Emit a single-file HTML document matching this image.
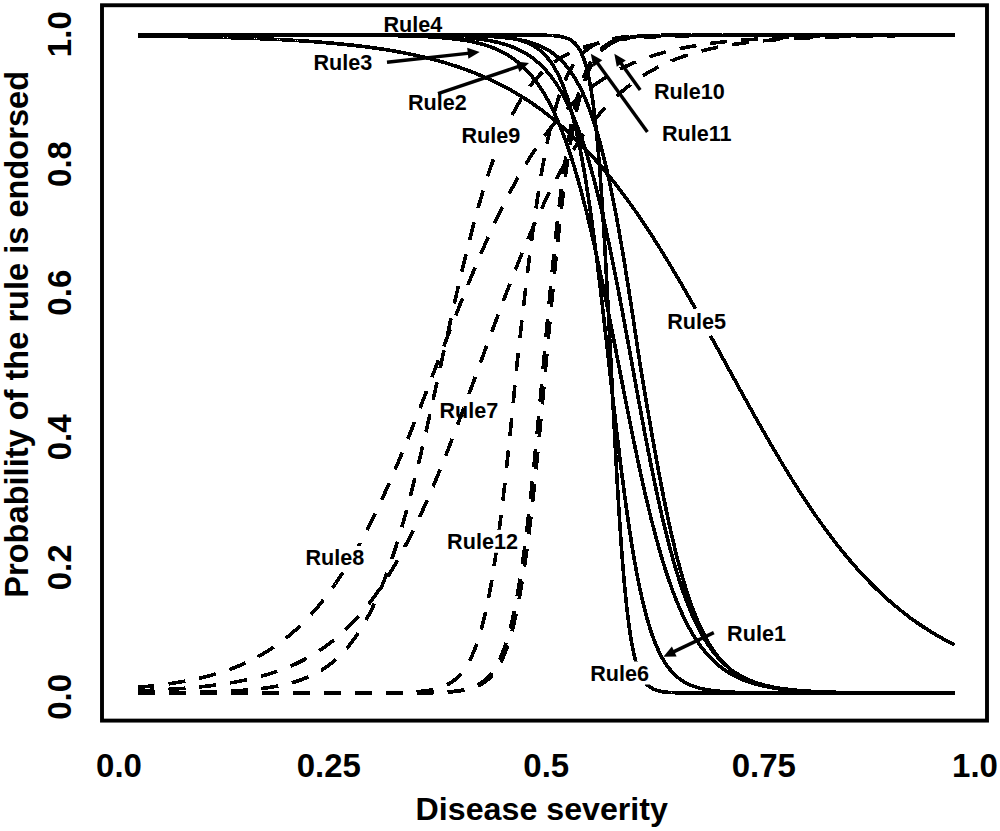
<!DOCTYPE html>
<html><head><meta charset="utf-8"><style>
html,body{margin:0;padding:0;background:#fff;width:1000px;height:831px;overflow:hidden}
svg{display:block}
.ax{font-family:"Liberation Sans",sans-serif;font-weight:bold;font-size:33px;fill:#000}
.lab{font-family:"Liberation Sans",sans-serif;font-weight:bold;font-size:21.6px;fill:#000}
</style></head><body>
<svg width="1000" height="831" viewBox="0 0 1000 831">
<rect x="0" y="0" width="1000" height="831" fill="#fff"/>
<g shape-rendering="crispEdges">
<path d="M137.5,36.0 L138.5,36.0 L139.5,36.0 L140.5,36.0 L141.5,36.0 L142.5,36.0 L143.5,36.0 L144.5,36.0 L145.5,36.0 L146.5,36.0 L147.5,36.1 L148.5,36.1 L149.5,36.1 L150.5,36.1 L151.5,36.1 L152.5,36.1 L153.5,36.1 L154.5,36.1 L155.5,36.2 L156.5,36.2 L157.5,36.2 L158.5,36.2 L159.5,36.2 L160.5,36.2 L161.5,36.2 L162.5,36.3 L163.5,36.3 L164.5,36.3 L165.5,36.3 L166.5,36.3 L167.5,36.3 L168.5,36.3 L169.5,36.4 L170.5,36.4 L171.5,36.4 L172.5,36.4 L173.5,36.4 L174.5,36.4 L175.5,36.4 L176.5,36.5 L177.5,36.5 L178.5,36.5 L179.5,36.5 L180.5,36.5 L181.5,36.5 L182.5,36.6 L183.5,36.6 L184.5,36.6 L185.5,36.6 L186.5,36.6 L187.5,36.7 L188.5,36.7 L189.5,36.7 L190.5,36.7 L191.5,36.7 L192.5,36.7 L193.5,36.8 L194.5,36.8 L195.5,36.8 L196.5,36.8 L197.5,36.8 L198.5,36.9 L199.5,36.9 L200.5,36.9 L201.5,36.9 L202.5,37.0 L203.5,37.0 L204.5,37.0 L205.5,37.0 L206.5,37.0 L207.5,37.1 L208.5,37.1 L209.5,37.1 L210.5,37.1 L211.5,37.2 L212.5,37.2 L213.5,37.2 L214.5,37.2 L215.5,37.3 L216.5,37.3 L217.5,37.3 L218.5,37.3 L219.5,37.4 L220.5,37.4 L221.5,37.4 L222.5,37.4 L223.5,37.5 L224.5,37.5 L225.5,37.5 L226.5,37.5 L227.5,37.6 L228.5,37.6 L229.5,37.6 L230.5,37.7 L231.5,37.7 L232.5,37.7 L233.5,37.8 L234.5,37.8 L235.5,37.8 L236.5,37.8 L237.5,37.9 L238.5,37.9 L239.5,37.9 L240.5,38.0 L241.5,38.0 L242.5,38.0 L243.5,38.1 L244.5,38.1 L245.5,38.1 L246.5,38.2 L247.5,38.2 L248.5,38.3 L249.5,38.3 L250.5,38.3 L251.5,38.4 L252.5,38.4 L253.5,38.4 L254.5,38.5 L255.5,38.5 L256.5,38.6 L257.5,38.6 L258.5,38.6 L259.5,38.7 L260.5,38.7 L261.5,38.8 L262.5,38.8 L263.5,38.8 L264.5,38.9 L265.5,38.9 L266.5,39.0 L267.5,39.0 L268.5,39.1 L269.5,39.1 L270.5,39.1 L271.5,39.2 L272.5,39.2 L273.5,39.3 L274.5,39.3 L275.5,39.4 L276.5,39.4 L277.5,39.5 L278.5,39.5 L279.5,39.6 L280.5,39.6 L281.5,39.7 L282.5,39.7 L283.5,39.8 L284.5,39.8 L285.5,39.9 L286.5,39.9 L287.5,40.0 L288.5,40.1 L289.5,40.1 L290.5,40.2 L291.5,40.2 L292.5,40.3 L293.5,40.3 L294.5,40.4 L295.5,40.5 L296.5,40.5 L297.5,40.6 L298.5,40.6 L299.5,40.7 L300.5,40.8 L301.5,40.8 L302.5,40.9 L303.5,41.0 L304.5,41.0 L305.5,41.1 L306.5,41.2 L307.5,41.2 L308.5,41.3 L309.5,41.4 L310.5,41.4 L311.5,41.5 L312.5,41.6 L313.5,41.7 L314.5,41.7 L315.5,41.8 L316.5,41.9 L317.5,42.0 L318.5,42.0 L319.5,42.1 L320.5,42.2 L321.5,42.3 L322.5,42.3 L323.5,42.4 L324.5,42.5 L325.5,42.6 L326.5,42.7 L327.5,42.8 L328.5,42.9 L329.5,42.9 L330.5,43.0 L331.5,43.1 L332.5,43.2 L333.5,43.3 L334.5,43.4 L335.5,43.5 L336.5,43.6 L337.5,43.7 L338.5,43.8 L339.5,43.9 L340.5,44.0 L341.5,44.1 L342.5,44.2 L343.5,44.3 L344.5,44.4 L345.5,44.5 L346.5,44.6 L347.5,44.7 L348.5,44.8 L349.5,44.9 L350.5,45.0 L351.5,45.1 L352.5,45.2 L353.5,45.3 L354.5,45.4 L355.5,45.6 L356.5,45.7 L357.5,45.8 L358.5,45.9 L359.5,46.0 L360.5,46.1 L361.5,46.3 L362.5,46.4 L363.5,46.5 L364.5,46.6 L365.5,46.8 L366.5,46.9 L367.5,47.0 L368.5,47.2 L369.5,47.3 L370.5,47.4 L371.5,47.6 L372.5,47.7 L373.5,47.8 L374.5,48.0 L375.5,48.1 L376.5,48.3 L377.5,48.4 L378.5,48.6 L379.5,48.7 L380.5,48.9 L381.5,49.0 L382.5,49.2 L383.5,49.3 L384.5,49.5 L385.5,49.6 L386.5,49.8 L387.5,50.0 L388.5,50.1 L389.5,50.3 L390.5,50.5 L391.5,50.6 L392.5,50.8 L393.5,51.0 L394.5,51.1 L395.5,51.3 L396.5,51.5 L397.5,51.7 L398.5,51.9 L399.5,52.0 L400.5,52.2 L401.5,52.4 L402.5,52.6 L403.5,52.8 L404.5,53.0 L405.5,53.2 L406.5,53.4 L407.5,53.6 L408.5,53.8 L409.5,54.0 L410.5,54.2 L411.5,54.4 L412.5,54.6 L413.5,54.8 L414.5,55.0 L415.5,55.2 L416.5,55.5 L417.5,55.7 L418.5,55.9 L419.5,56.1 L420.5,56.4 L421.5,56.6 L422.5,56.8 L423.5,57.1 L424.5,57.3 L425.5,57.5 L426.5,57.8 L427.5,58.0 L428.5,58.3 L429.5,58.5 L430.5,58.8 L431.5,59.0 L432.5,59.3 L433.5,59.6 L434.5,59.8 L435.5,60.1 L436.5,60.4 L437.5,60.6 L438.5,60.9 L439.5,61.2 L440.5,61.5 L441.5,61.8 L442.5,62.0 L443.5,62.3 L444.5,62.6 L445.5,62.9 L446.5,63.2 L447.5,63.5 L448.5,63.8 L449.5,64.1 L450.5,64.4 L451.5,64.8 L452.5,65.1 L453.5,65.4 L454.5,65.7 L455.5,66.0 L456.5,66.4 L457.5,66.7 L458.5,67.0 L459.5,67.4 L460.5,67.7 L461.5,68.1 L462.5,68.4 L463.5,68.8 L464.5,69.1 L465.5,69.5 L466.5,69.9 L467.5,70.2 L468.5,70.6 L469.5,71.0 L470.5,71.4 L471.5,71.7 L472.5,72.1 L473.5,72.5 L474.5,72.9 L475.5,73.3 L476.5,73.7 L477.5,74.1 L478.5,74.5 L479.5,75.0 L480.5,75.4 L481.5,75.8 L482.5,76.2 L483.5,76.7 L484.5,77.1 L485.5,77.5 L486.5,78.0 L487.5,78.4 L488.5,78.9 L489.5,79.3 L490.5,79.8 L491.5,80.3 L492.5,80.7 L493.5,81.2 L494.5,81.7 L495.5,82.2 L496.5,82.7 L497.5,83.2 L498.5,83.6 L499.5,84.2 L500.5,84.7 L501.5,85.2 L502.5,85.7 L503.5,86.2 L504.5,86.7 L505.5,87.3 L506.5,87.8 L507.5,88.3 L508.5,88.9 L509.5,89.4 L510.5,90.0 L511.5,90.6 L512.5,91.1 L513.5,91.7 L514.5,92.3 L515.5,92.9 L516.5,93.5 L517.5,94.1 L518.5,94.7 L519.5,95.3 L520.5,95.9 L521.5,96.5 L522.5,97.1 L523.5,97.7 L524.5,98.4 L525.5,99.0 L526.5,99.7 L527.5,100.3 L528.5,101.0 L529.5,101.6 L530.5,102.3 L531.5,103.0 L532.5,103.6 L533.5,104.3 L534.5,105.0 L535.5,105.7 L536.5,106.4 L537.5,107.1 L538.5,107.9 L539.5,108.6 L540.5,109.3 L541.5,110.0 L542.5,110.8 L543.5,111.5 L544.5,112.3 L545.5,113.1 L546.5,113.8 L547.5,114.6 L548.5,115.4 L549.5,116.2 L550.5,117.0 L551.5,117.8 L552.5,118.6 L553.5,119.4 L554.5,120.2 L555.5,121.0 L556.5,121.9 L557.5,122.7 L558.5,123.5 L559.5,124.4 L560.5,125.3 L561.5,126.1 L562.5,127.0 L563.5,127.9 L564.5,128.8 L565.5,129.7 L566.5,130.6 L567.5,131.5 L568.5,132.4 L569.5,133.3 L570.5,134.3 L571.5,135.2 L572.5,136.2 L573.5,137.1 L574.5,138.1 L575.5,139.0 L576.5,140.0 L577.5,141.0 L578.5,142.0 L579.5,143.0 L580.5,144.0 L581.5,145.0 L582.5,146.0 L583.5,147.1 L584.5,148.1 L585.5,149.2 L586.5,150.2 L587.5,151.3 L588.5,152.3 L589.5,153.4 L590.5,154.5 L591.5,155.6 L592.5,156.7 L593.5,157.8 L594.5,158.9 L595.5,160.0 L596.5,161.2 L597.5,162.3 L598.5,163.4 L599.5,164.6 L600.5,165.7 L601.5,166.9 L602.5,168.1 L603.5,169.3 L604.5,170.5 L605.5,171.7 L606.5,172.9 L607.5,174.1 L608.5,175.3 L609.5,176.5 L610.5,177.8 L611.5,179.0 L612.5,180.3 L613.5,181.5 L614.5,182.8 L615.5,184.1 L616.5,185.4 L617.5,186.7 L618.5,188.0 L619.5,189.3 L620.5,190.6 L621.5,191.9 L622.5,193.2 L623.5,194.6 L624.5,195.9 L625.5,197.3 L626.5,198.6 L627.5,200.0 L628.5,201.4 L629.5,202.8 L630.5,204.2 L631.5,205.6 L632.5,207.0 L633.5,208.4 L634.5,209.8 L635.5,211.2 L636.5,212.7 L637.5,214.1 L638.5,215.6 L639.5,217.0 L640.5,218.5 L641.5,220.0 L642.5,221.5 L643.5,222.9 L644.5,224.4 L645.5,225.9 L646.5,227.5 L647.5,229.0 L648.5,230.5 L649.5,232.0 L650.5,233.6 L651.5,235.1 L652.5,236.7 L653.5,238.2 L654.5,239.8 L655.5,241.4 L656.5,242.9 L657.5,244.5 L658.5,246.1 L659.5,247.7 L660.5,249.3 L661.5,250.9 L662.5,252.5 L663.5,254.1 L664.5,255.8 L665.5,257.4 L666.5,259.0 L667.5,260.7 L668.5,262.3 L669.5,264.0 L670.5,265.7 L671.5,267.3 L672.5,269.0 L673.5,270.7 L674.5,272.4 L675.5,274.0 L676.5,275.7 L677.5,277.4 L678.5,279.1 L679.5,280.8 L680.5,282.6 L681.5,284.3 L682.5,286.0 L683.5,287.7 L684.5,289.5 L685.5,291.2 L686.5,292.9 L687.5,294.7 L688.5,296.4 L689.5,298.2 L690.5,299.9 L691.5,301.7 L692.5,303.5 L693.5,305.2 L694.5,307.0 L695.5,308.8 M710.5,335.7 L711.5,337.6 L712.5,339.4 L713.5,341.2 L714.5,343.0 L715.5,344.8 L716.5,346.7 L717.5,348.5 L718.5,350.3 L719.5,352.1 L720.5,354.0 L721.5,355.8 L722.5,357.6 L723.5,359.4 L724.5,361.3 L725.5,363.1 L726.5,364.9 L727.5,366.7 L728.5,368.6 L729.5,370.4 L730.5,372.2 L731.5,374.0 L732.5,375.9 L733.5,377.7 L734.5,379.5 L735.5,381.3 L736.5,383.2 L737.5,385.0 L738.5,386.8 L739.5,388.6 L740.5,390.4 L741.5,392.3 L742.5,394.1 L743.5,395.9 L744.5,397.7 L745.5,399.5 L746.5,401.3 L747.5,403.1 L748.5,404.9 L749.5,406.7 L750.5,408.5 L751.5,410.3 L752.5,412.1 L753.5,413.9 L754.5,415.7 L755.5,417.4 L756.5,419.2 L757.5,421.0 L758.5,422.8 L759.5,424.5 L760.5,426.3 L761.5,428.1 L762.5,429.8 L763.5,431.6 L764.5,433.3 L765.5,435.1 L766.5,436.8 L767.5,438.5 L768.5,440.3 L769.5,442.0 L770.5,443.7 L771.5,445.4 L772.5,447.2 L773.5,448.9 L774.5,450.6 L775.5,452.3 L776.5,454.0 L777.5,455.6 L778.5,457.3 L779.5,459.0 L780.5,460.7 L781.5,462.3 L782.5,464.0 L783.5,465.7 L784.5,467.3 L785.5,469.0 L786.5,470.6 L787.5,472.2 L788.5,473.9 L789.5,475.5 L790.5,477.1 L791.5,478.7 L792.5,480.3 L793.5,481.9 L794.5,483.5 L795.5,485.1 L796.5,486.6 L797.5,488.2 L798.5,489.8 L799.5,491.3 L800.5,492.9 L801.5,494.4 L802.5,496.0 L803.5,497.5 L804.5,499.0 L805.5,500.5 L806.5,502.1 L807.5,503.6 L808.5,505.1 L809.5,506.5 L810.5,508.0 L811.5,509.5 L812.5,511.0 L813.5,512.4 L814.5,513.9 L815.5,515.3 L816.5,516.8 L817.5,518.2 L818.5,519.6 L819.5,521.0 L820.5,522.4 L821.5,523.8 L822.5,525.2 L823.5,526.6 L824.5,528.0 L825.5,529.4 L826.5,530.7 L827.5,532.1 L828.5,533.4 L829.5,534.8 L830.5,536.1 L831.5,537.4 L832.5,538.7 L833.5,540.0 L834.5,541.3 L835.5,542.6 L836.5,543.9 L837.5,545.2 L838.5,546.5 L839.5,547.7 L840.5,549.0 L841.5,550.2 L842.5,551.5 L843.5,552.7 L844.5,553.9 L845.5,555.1 L846.5,556.3 L847.5,557.5 L848.5,558.7 L849.5,559.9 L850.5,561.1 L851.5,562.3 L852.5,563.4 L853.5,564.6 L854.5,565.7 L855.5,566.8 L856.5,568.0 L857.5,569.1 L858.5,570.2 L859.5,571.3 L860.5,572.4 L861.5,573.5 L862.5,574.6 L863.5,575.7 L864.5,576.7 L865.5,577.8 L866.5,578.8 L867.5,579.9 L868.5,580.9 L869.5,582.0 L870.5,583.0 L871.5,584.0 L872.5,585.0 L873.5,586.0 L874.5,587.0 L875.5,588.0 L876.5,589.0 L877.5,589.9 L878.5,590.9 L879.5,591.8 L880.5,592.8 L881.5,593.7 L882.5,594.7 L883.5,595.6 L884.5,596.5 L885.5,597.4 L886.5,598.3 L887.5,599.2 L888.5,600.1 L889.5,601.0 L890.5,601.9 L891.5,602.7 L892.5,603.6 L893.5,604.5 L894.5,605.3 L895.5,606.1 L896.5,607.0 L897.5,607.8 L898.5,608.6 L899.5,609.4 L900.5,610.2 L901.5,611.0 L902.5,611.8 L903.5,612.6 L904.5,613.4 L905.5,614.2 L906.5,614.9 L907.5,615.7 L908.5,616.5 L909.5,617.2 L910.5,618.0 L911.5,618.7 L912.5,619.4 L913.5,620.1 L914.5,620.9 L915.5,621.6 L916.5,622.3 L917.5,623.0 L918.5,623.7 L919.5,624.4 L920.5,625.0 L921.5,625.7 L922.5,626.4 L923.5,627.0 L924.5,627.7 L925.5,628.3 L926.5,629.0 L927.5,629.6 L928.5,630.3 L929.5,630.9 L930.5,631.5 L931.5,632.1 L932.5,632.7 L933.5,633.3 L934.5,633.9 L935.5,634.5 L936.5,635.1 L937.5,635.7 L938.5,636.3 L939.5,636.9 L940.5,637.4 L941.5,638.0 L942.5,638.6 L943.5,639.1 L944.5,639.7 L945.5,640.2 L946.5,640.7 L947.5,641.3 L948.5,641.8 L949.5,642.3 L950.5,642.8 L951.5,643.3 L952.5,643.8 L953.5,644.4 L954.5,644.8" fill="none" stroke="#000" stroke-width="3.6" stroke-linejoin="round"/><path d="M137.5,35.0 L138.5,35.0 L139.5,35.0 L140.5,35.0 L141.5,35.0 L142.5,35.0 L143.5,35.0 L144.5,35.0 L145.5,35.0 L146.5,35.0 L147.5,35.0 L148.5,35.0 L149.5,35.0 L150.5,35.0 L151.5,35.0 L152.5,35.0 L153.5,35.0 L154.5,35.0 L155.5,35.0 L156.5,35.0 L157.5,35.0 L158.5,35.0 L159.5,35.0 L160.5,35.0 L161.5,35.0 L162.5,35.0 L163.5,35.0 L164.5,35.0 L165.5,35.0 L166.5,35.0 L167.5,35.0 L168.5,35.0 L169.5,35.0 L170.5,35.0 L171.5,35.0 L172.5,35.0 L173.5,35.0 L174.5,35.0 L175.5,35.0 L176.5,35.0 L177.5,35.0 L178.5,35.0 L179.5,35.0 L180.5,35.0 L181.5,35.0 L182.5,35.0 L183.5,35.0 L184.5,35.0 L185.5,35.0 L186.5,35.0 L187.5,35.0 L188.5,35.0 L189.5,35.0 L190.5,35.0 L191.5,35.0 L192.5,35.0 L193.5,35.0 L194.5,35.0 L195.5,35.0 L196.5,35.0 L197.5,35.0 L198.5,35.0 L199.5,35.0 L200.5,35.0 L201.5,35.0 L202.5,35.0 L203.5,35.0 L204.5,35.0 L205.5,35.0 L206.5,35.0 L207.5,35.0 L208.5,35.0 L209.5,35.0 L210.5,35.0 L211.5,35.0 L212.5,35.0 L213.5,35.0 L214.5,35.0 L215.5,35.0 L216.5,35.0 L217.5,35.0 L218.5,35.0 L219.5,35.0 L220.5,35.0 L221.5,35.0 L222.5,35.0 L223.5,35.0 L224.5,35.0 L225.5,35.0 L226.5,35.0 L227.5,35.0 L228.5,35.0 L229.5,35.0 L230.5,35.0 L231.5,35.0 L232.5,35.0 L233.5,35.0 L234.5,35.0 L235.5,35.0 L236.5,35.0 L237.5,35.0 L238.5,35.0 L239.5,35.0 L240.5,35.0 L241.5,35.0 L242.5,35.0 L243.5,35.0 L244.5,35.0 L245.5,35.0 L246.5,35.0 L247.5,35.0 L248.5,35.0 L249.5,35.0 L250.5,35.0 L251.5,35.0 L252.5,35.0 L253.5,35.0 L254.5,35.0 L255.5,35.0 L256.5,35.0 L257.5,35.0 L258.5,35.0 L259.5,35.0 L260.5,35.0 L261.5,35.0 L262.5,35.0 L263.5,35.0 L264.5,35.0 L265.5,35.0 L266.5,35.0 L267.5,35.0 L268.5,35.0 L269.5,35.0 L270.5,35.0 L271.5,35.0 L272.5,35.0 L273.5,35.0 L274.5,35.0 L275.5,35.0 L276.5,35.0 L277.5,35.0 L278.5,35.0 L279.5,35.0 L280.5,35.0 L281.5,35.0 L282.5,35.0 L283.5,35.0 L284.5,35.0 L285.5,35.0 L286.5,35.0 L287.5,35.0 L288.5,35.0 L289.5,35.0 L290.5,35.0 L291.5,35.0 L292.5,35.0 L293.5,35.0 L294.5,35.0 L295.5,35.0 L296.5,35.0 L297.5,35.0 L298.5,35.0 L299.5,35.0 L300.5,35.0 L301.5,35.0 L302.5,35.0 L303.5,35.0 L304.5,35.0 L305.5,35.0 L306.5,35.0 L307.5,35.0 L308.5,35.0 L309.5,35.0 L310.5,35.0 L311.5,35.0 L312.5,35.0 L313.5,35.0 L314.5,35.0 L315.5,35.0 L316.5,35.0 L317.5,35.0 L318.5,35.0 L319.5,35.0 L320.5,35.0 L321.5,35.0 L322.5,35.0 L323.5,35.0 L324.5,35.0 L325.5,35.0 L326.5,35.0 L327.5,35.0 L328.5,35.0 L329.5,35.0 L330.5,35.0 L331.5,35.0 L332.5,35.0 L333.5,35.0 L334.5,35.0 L335.5,35.0 L336.5,35.0 L337.5,35.0 L338.5,35.0 L339.5,35.0 L340.5,35.0 L341.5,35.0 L342.5,35.0 L343.5,35.0 L344.5,35.0 L345.5,35.0 L346.5,35.0 L347.5,35.0 L348.5,35.0 L349.5,35.0 L350.5,35.0 L351.5,35.0 L352.5,35.0 L353.5,35.0 L354.5,35.0 L355.5,35.0 L356.5,35.0 L357.5,35.0 L358.5,35.0 L359.5,35.0 L360.5,35.0 L361.5,35.0 L362.5,35.0 L363.5,35.0 L364.5,35.0 L365.5,35.0 L366.5,35.0 L367.5,35.0 L368.5,35.0 L369.5,35.0 L370.5,35.0 L371.5,35.0 L372.5,35.0 L373.5,35.0 L374.5,35.0 L375.5,35.0 L376.5,35.0 L377.5,35.0 L378.5,35.0 L379.5,35.0 L380.5,35.0 L381.5,35.0 L382.5,35.0 L383.5,35.0 L384.5,35.0 L385.5,35.0 L386.5,35.0 L387.5,35.0 L388.5,35.0 L389.5,35.0 L390.5,35.0 L391.5,35.0 L392.5,35.0 L393.5,35.0 L394.5,35.0 L395.5,35.0 L396.5,35.0 L397.5,35.0 L398.5,35.0 L399.5,35.0 L400.5,35.0 L401.5,35.0 L402.5,35.0 L403.5,35.0 L404.5,35.0 L405.5,35.0 L406.5,35.0 L407.5,35.0 L408.5,35.0 L409.5,35.0 L410.5,35.0 L411.5,35.0 L412.5,35.0 L413.5,35.0 L414.5,35.0 L415.5,35.0 L416.5,35.0 L417.5,35.0 L418.5,35.0 L419.5,35.0 L420.5,35.0 L421.5,35.0 L422.5,35.0 L423.5,35.0 L424.5,35.0 L425.5,35.0 L426.5,35.0 L427.5,35.0 L428.5,35.0 L429.5,35.0 L430.5,35.0 L431.5,35.0 L432.5,35.0 L433.5,35.0 L434.5,35.0 L435.5,35.0 L436.5,35.0 L437.5,35.0 L438.5,35.0 L439.5,35.0 L440.5,35.0 L441.5,35.0 L442.5,35.0 L443.5,35.0 L444.5,35.0 L445.5,35.0 L446.5,35.0 L447.5,35.0 L448.5,35.0 L449.5,35.0 L450.5,35.0 L451.5,35.0 L452.5,35.0 L453.5,35.0 L454.5,35.0 L455.5,35.0 L456.5,35.0 L457.5,35.0 L458.5,35.0 L459.5,35.0 L460.5,35.0 L461.5,35.0 L462.5,35.0 L463.5,35.0 L464.5,35.0 L465.5,35.0 L466.5,35.0 L467.5,35.0 L468.5,35.0 L469.5,35.0 L470.5,35.0 L471.5,35.0 L472.5,35.0 L473.5,35.0 L474.5,35.0 L475.5,35.0 L476.5,35.0 L477.5,35.0 L478.5,35.0 L479.5,35.0 L480.5,35.0 L481.5,35.0 L482.5,35.0 L483.5,35.0 L484.5,35.0 L485.5,35.0 L486.5,35.0 L487.5,35.0 L488.5,35.0 L489.5,35.0 L490.5,35.0 L491.5,35.0 L492.5,35.0 L493.5,35.0 L494.5,35.0 L495.5,35.0 L496.5,35.0 L497.5,35.0 L498.5,35.0 L499.5,35.0 L500.5,35.0 L501.5,35.0 L502.5,35.0 L503.5,35.0 L504.5,35.0 L505.5,35.0 L506.5,35.0 L507.5,35.0 L508.5,35.0 L509.5,35.0 L510.5,35.0 L511.5,35.0 L512.5,35.0 L513.5,35.0 L514.5,35.0 L515.5,35.0 L516.5,35.0 L517.5,35.0 L518.5,35.0 L519.5,35.0 L520.5,35.0 L521.5,35.0 L522.5,35.0 L523.5,35.0 L524.5,35.0 L525.5,35.0 L526.5,35.0 L527.5,35.0 L528.5,35.0 L529.5,35.0 L530.5,35.0 L531.5,35.0 L532.5,35.1 L533.5,35.1 L534.5,35.1 L535.5,35.1 L536.5,35.1 L537.5,35.1 L538.5,35.1 L539.5,35.1 L540.5,35.1 L541.5,35.2 L542.5,35.2 L543.5,35.2 L544.5,35.2 L545.5,35.2 L546.5,35.3 L547.5,35.3 L548.5,35.4 L549.5,35.4 L550.5,35.4 L551.5,35.5 L552.5,35.6 L553.5,35.6 L554.5,35.7 L555.5,35.8 L556.5,35.9 L557.5,36.0 L558.5,36.2 L559.5,36.3 L560.5,36.5 L561.5,36.7 L562.5,36.9 L563.5,37.1 L564.5,37.4 L565.5,37.7 L566.5,38.1 L567.5,38.5 L568.5,38.9 L569.5,39.4 L570.5,40.0 L571.5,40.6 L572.5,41.3 L573.5,42.1 L574.5,43.0 L575.5,44.0 L576.5,45.1 L577.5,46.4 L578.5,47.9 L579.5,49.5 L580.5,51.3 L581.5,53.3 L582.5,55.6 L583.5,58.1 L584.5,61.0 L585.5,64.1 L586.5,67.7 L587.5,71.6 L588.5,76.0 L589.5,80.9 L590.5,86.3 L591.5,92.3 L592.5,98.9 L593.5,106.2 L594.5,114.3 L595.5,123.1 L596.5,132.7 L597.5,143.1 L598.5,154.4 L599.5,166.7 L600.5,179.8 L601.5,193.9 L602.5,208.9 L603.5,224.7 L604.5,241.4 L605.5,258.8 L606.5,276.9 L607.5,295.6 L608.5,314.8 L609.5,334.4 L610.5,354.1 L611.5,373.9 L612.5,393.6 L613.5,413.2 L614.5,432.4 L615.5,451.1 L616.5,469.2 L617.5,486.6 L618.5,503.3 L619.5,519.1 L620.5,534.1 L621.5,548.2 L622.5,561.3 L623.5,573.6 L624.5,584.9 L625.5,595.3 L626.5,604.9 L627.5,613.7 L628.5,621.8 L629.5,629.1 L630.5,635.7 L631.5,641.7 L632.5,647.1 L633.5,652.0 L634.5,656.4 L635.5,660.3 L636.5,663.9 L637.5,667.0 L638.5,669.9 L639.5,672.4 L640.5,674.7 L641.5,676.7 L642.5,678.5 L643.5,680.1 L644.5,681.6 L645.5,682.9 L646.5,684.0 L647.5,685.0 L648.5,685.9 L649.5,686.7 L650.5,687.4 L651.5,688.0 L652.5,688.6 L653.5,689.1 L654.5,689.5 L655.5,689.9 L656.5,690.3 L657.5,690.6 L658.5,690.9 L659.5,691.1 L660.5,691.3 L661.5,691.5 L662.5,691.7 L663.5,691.8 L664.5,692.0 L665.5,692.1 L666.5,692.2 L667.5,692.3 L668.5,692.4 L669.5,692.4 L670.5,692.5 L671.5,692.6 L672.5,692.6 L673.5,692.6 L674.5,692.7 L675.5,692.7 L676.5,692.8 L677.5,692.8 L678.5,692.8 L679.5,692.8 L680.5,692.8 L681.5,692.9 L682.5,692.9 L683.5,692.9 L684.5,692.9 L685.5,692.9 L686.5,692.9 L687.5,692.9 L688.5,692.9 L689.5,692.9 L690.5,693.0 L691.5,693.0 L692.5,693.0 L693.5,693.0 L694.5,693.0 L695.5,693.0 L696.5,693.0 L697.5,693.0 L698.5,693.0 L699.5,693.0 L700.5,693.0 L701.5,693.0 L702.5,693.0 L703.5,693.0 L704.5,693.0 L705.5,693.0 L706.5,693.0 L707.5,693.0 L708.5,693.0 L709.5,693.0 L710.5,693.0 L711.5,693.0 L712.5,693.0 L713.5,693.0 L714.5,693.0 L715.5,693.0 L716.5,693.0 L717.5,693.0 L718.5,693.0 L719.5,693.0 L720.5,693.0 L721.5,693.0 L722.5,693.0 L723.5,693.0 L724.5,693.0 L725.5,693.0 L726.5,693.0 L727.5,693.0 L728.5,693.0 L729.5,693.0 L730.5,693.0 L731.5,693.0 L732.5,693.0 L733.5,693.0 L734.5,693.0 L735.5,693.0 L736.5,693.0 L737.5,693.0 L738.5,693.0 L739.5,693.0 L740.5,693.0 L741.5,693.0 L742.5,693.0 L743.5,693.0 L744.5,693.0 L745.5,693.0 L746.5,693.0 L747.5,693.0 L748.5,693.0 L749.5,693.0 L750.5,693.0 L751.5,693.0 L752.5,693.0 L753.5,693.0 L754.5,693.0 L755.5,693.0 L756.5,693.0 L757.5,693.0 L758.5,693.0 L759.5,693.0 L760.5,693.0 L761.5,693.0 L762.5,693.0 L763.5,693.0 L764.5,693.0 L765.5,693.0 L766.5,693.0 L767.5,693.0 L768.5,693.0 L769.5,693.0 L770.5,693.0 L771.5,693.0 L772.5,693.0 L773.5,693.0 L774.5,693.0 L775.5,693.0 L776.5,693.0 L777.5,693.0 L778.5,693.0 L779.5,693.0 L780.5,693.0 L781.5,693.0 L782.5,693.0 L783.5,693.0 L784.5,693.0 L785.5,693.0 L786.5,693.0 L787.5,693.0 L788.5,693.0 L789.5,693.0 L790.5,693.0 L791.5,693.0 L792.5,693.0 L793.5,693.0 L794.5,693.0 L795.5,693.0 L796.5,693.0 L797.5,693.0 L798.5,693.0 L799.5,693.0 L800.5,693.0 L801.5,693.0 L802.5,693.0 L803.5,693.0 L804.5,693.0 L805.5,693.0 L806.5,693.0 L807.5,693.0 L808.5,693.0 L809.5,693.0 L810.5,693.0 L811.5,693.0 L812.5,693.0 L813.5,693.0 L814.5,693.0 L815.5,693.0 L816.5,693.0 L817.5,693.0 L818.5,693.0 L819.5,693.0 L820.5,693.0 L821.5,693.0 L822.5,693.0 L823.5,693.0 L824.5,693.0 L825.5,693.0 L826.5,693.0 L827.5,693.0 L828.5,693.0 L829.5,693.0 L830.5,693.0 L831.5,693.0 L832.5,693.0 L833.5,693.0 L834.5,693.0 L835.5,693.0 L836.5,693.0 L837.5,693.0 L838.5,693.0 L839.5,693.0 L840.5,693.0 L841.5,693.0 L842.5,693.0 L843.5,693.0 L844.5,693.0 L845.5,693.0 L846.5,693.0 L847.5,693.0 L848.5,693.0 L849.5,693.0 L850.5,693.0 L851.5,693.0 L852.5,693.0 L853.5,693.0 L854.5,693.0 L855.5,693.0 L856.5,693.0 L857.5,693.0 L858.5,693.0 L859.5,693.0 L860.5,693.0 L861.5,693.0 L862.5,693.0 L863.5,693.0 L864.5,693.0 L865.5,693.0 L866.5,693.0 L867.5,693.0 L868.5,693.0 L869.5,693.0 L870.5,693.0 L871.5,693.0 L872.5,693.0 L873.5,693.0 L874.5,693.0 L875.5,693.0 L876.5,693.0 L877.5,693.0 L878.5,693.0 L879.5,693.0 L880.5,693.0 L881.5,693.0 L882.5,693.0 L883.5,693.0 L884.5,693.0 L885.5,693.0 L886.5,693.0 L887.5,693.0 L888.5,693.0 L889.5,693.0 L890.5,693.0 L891.5,693.0 L892.5,693.0 L893.5,693.0 L894.5,693.0 L895.5,693.0 L896.5,693.0 L897.5,693.0 L898.5,693.0 L899.5,693.0 L900.5,693.0 L901.5,693.0 L902.5,693.0 L903.5,693.0 L904.5,693.0 L905.5,693.0 L906.5,693.0 L907.5,693.0 L908.5,693.0 L909.5,693.0 L910.5,693.0 L911.5,693.0 L912.5,693.0 L913.5,693.0 L914.5,693.0 L915.5,693.0 L916.5,693.0 L917.5,693.0 L918.5,693.0 L919.5,693.0 L920.5,693.0 L921.5,693.0 L922.5,693.0 L923.5,693.0 L924.5,693.0 L925.5,693.0 L926.5,693.0 L927.5,693.0 L928.5,693.0 L929.5,693.0 L930.5,693.0 L931.5,693.0 L932.5,693.0 L933.5,693.0 L934.5,693.0 L935.5,693.0 L936.5,693.0 L937.5,693.0 L938.5,693.0 L939.5,693.0 L940.5,693.0 L941.5,693.0 L942.5,693.0 L943.5,693.0 L944.5,693.0 L945.5,693.0 L946.5,693.0 L947.5,693.0 L948.5,693.0 L949.5,693.0 L950.5,693.0 L951.5,693.0 L952.5,693.0 L953.5,693.0 L954.5,693.0" fill="none" stroke="#000" stroke-width="3.6" stroke-linejoin="round"/><path d="M137.5,35.0 L138.5,35.0 L139.5,35.0 L140.5,35.0 L141.5,35.0 L142.5,35.0 L143.5,35.0 L144.5,35.0 L145.5,35.0 L146.5,35.0 L147.5,35.0 L148.5,35.0 L149.5,35.0 L150.5,35.0 L151.5,35.0 L152.5,35.0 L153.5,35.0 L154.5,35.0 L155.5,35.0 L156.5,35.0 L157.5,35.0 L158.5,35.0 L159.5,35.0 L160.5,35.0 L161.5,35.0 L162.5,35.0 L163.5,35.0 L164.5,35.0 L165.5,35.0 L166.5,35.0 L167.5,35.0 L168.5,35.0 L169.5,35.0 L170.5,35.0 L171.5,35.0 L172.5,35.0 L173.5,35.0 L174.5,35.0 L175.5,35.0 L176.5,35.0 L177.5,35.0 L178.5,35.0 L179.5,35.0 L180.5,35.0 L181.5,35.0 L182.5,35.0 L183.5,35.0 L184.5,35.0 L185.5,35.0 L186.5,35.0 L187.5,35.0 L188.5,35.0 L189.5,35.0 L190.5,35.0 L191.5,35.0 L192.5,35.0 L193.5,35.0 L194.5,35.0 L195.5,35.0 L196.5,35.0 L197.5,35.0 L198.5,35.0 L199.5,35.0 L200.5,35.0 L201.5,35.0 L202.5,35.0 L203.5,35.0 L204.5,35.0 L205.5,35.0 L206.5,35.0 L207.5,35.0 L208.5,35.0 L209.5,35.0 L210.5,35.0 L211.5,35.0 L212.5,35.0 L213.5,35.0 L214.5,35.0 L215.5,35.0 L216.5,35.0 L217.5,35.0 L218.5,35.0 L219.5,35.0 L220.5,35.0 L221.5,35.0 L222.5,35.0 L223.5,35.0 L224.5,35.0 L225.5,35.0 L226.5,35.0 L227.5,35.0 L228.5,35.0 L229.5,35.0 L230.5,35.0 L231.5,35.0 L232.5,35.0 L233.5,35.0 L234.5,35.0 L235.5,35.0 L236.5,35.0 L237.5,35.0 L238.5,35.0 L239.5,35.0 L240.5,35.0 L241.5,35.0 L242.5,35.0 L243.5,35.0 L244.5,35.0 L245.5,35.0 L246.5,35.0 L247.5,35.0 L248.5,35.0 L249.5,35.0 L250.5,35.0 L251.5,35.0 L252.5,35.0 L253.5,35.0 L254.5,35.0 L255.5,35.0 L256.5,35.0 L257.5,35.0 L258.5,35.0 L259.5,35.0 L260.5,35.0 L261.5,35.0 L262.5,35.0 L263.5,35.0 L264.5,35.0 L265.5,35.0 L266.5,35.0 L267.5,35.0 L268.5,35.0 L269.5,35.0 L270.5,35.0 L271.5,35.0 L272.5,35.0 L273.5,35.0 L274.5,35.0 L275.5,35.0 L276.5,35.0 L277.5,35.0 L278.5,35.0 L279.5,35.0 L280.5,35.0 L281.5,35.0 L282.5,35.0 L283.5,35.0 L284.5,35.0 L285.5,35.0 L286.5,35.0 L287.5,35.0 L288.5,35.0 L289.5,35.0 L290.5,35.0 L291.5,35.0 L292.5,35.0 L293.5,35.0 L294.5,35.0 L295.5,35.0 L296.5,35.0 L297.5,35.0 L298.5,35.0 L299.5,35.0 L300.5,35.0 L301.5,35.0 L302.5,35.0 L303.5,35.0 L304.5,35.0 L305.5,35.0 L306.5,35.0 L307.5,35.0 L308.5,35.0 L309.5,35.0 L310.5,35.0 L311.5,35.0 L312.5,35.0 L313.5,35.0 L314.5,35.0 L315.5,35.0 L316.5,35.0 L317.5,35.0 L318.5,35.0 L319.5,35.0 L320.5,35.0 L321.5,35.0 L322.5,35.0 L323.5,35.0 L324.5,35.0 L325.5,35.0 L326.5,35.0 L327.5,35.0 L328.5,35.0 L329.5,35.0 L330.5,35.0 L331.5,35.0 L332.5,35.0 L333.5,35.0 L334.5,35.0 L335.5,35.0 L336.5,35.0 L337.5,35.0 L338.5,35.0 L339.5,35.0 L340.5,35.0 L341.5,35.0 L342.5,35.0 L343.5,35.0 L344.5,35.0 L345.5,35.0 L346.5,35.0 L347.5,35.0 L348.5,35.0 L349.5,35.0 L350.5,35.0 L351.5,35.0 L352.5,35.0 L353.5,35.0 L354.5,35.0 L355.5,35.0 L356.5,35.0 L357.5,35.0 L358.5,35.0 L359.5,35.0 L360.5,35.0 L361.5,35.0 L362.5,35.0 L363.5,35.0 L364.5,35.0 L365.5,35.0 L366.5,35.0 L367.5,35.0 L368.5,35.0 L369.5,35.0 L370.5,35.0 L371.5,35.0 L372.5,35.0 L373.5,35.0 L374.5,35.0 L375.5,35.0 L376.5,35.0 L377.5,35.0 L378.5,35.0 L379.5,35.0 L380.5,35.0 L381.5,35.0 L382.5,35.0 L383.5,35.0 L384.5,35.0 L385.5,35.0 L386.5,35.0 L387.5,35.0 L388.5,35.0 L389.5,35.0 L390.5,35.0 L391.5,35.0 L392.5,35.0 L393.5,35.0 L394.5,35.0 L395.5,35.0 L396.5,35.0 L397.5,35.0 L398.5,35.0 L399.5,35.0 L400.5,35.0 L401.5,35.0 L402.5,35.0 L403.5,35.0 L404.5,35.0 L405.5,35.0 L406.5,35.0 L407.5,35.0 L408.5,35.0 L409.5,35.0 L410.5,35.0 L411.5,35.0 L412.5,35.0 L413.5,35.0 L414.5,35.0 L415.5,35.0 L416.5,35.0 L417.5,35.0 L418.5,35.0 L419.5,35.0 L420.5,35.0 L421.5,35.0 L422.5,35.0 L423.5,35.0 L424.5,35.0 L425.5,35.0 L426.5,35.0 L427.5,35.0 L428.5,35.0 L429.5,35.0 L430.5,35.0 L431.5,35.0 L432.5,35.0 L433.5,35.0 L434.5,35.1 L435.5,35.1 L436.5,35.1 L437.5,35.1 L438.5,35.1 L439.5,35.1 L440.5,35.1 L441.5,35.1 L442.5,35.1 L443.5,35.1 L444.5,35.1 L445.5,35.1 L446.5,35.1 L447.5,35.1 L448.5,35.1 L449.5,35.1 L450.5,35.1 L451.5,35.1 L452.5,35.1 L453.5,35.1 L454.5,35.2 L455.5,35.2 L456.5,35.2 L457.5,35.2 L458.5,35.2 L459.5,35.2 L460.5,35.2 L461.5,35.2 L462.5,35.2 L463.5,35.3 L464.5,35.3 L465.5,35.3 L466.5,35.3 L467.5,35.3 L468.5,35.3 L469.5,35.3 L470.5,35.4 L471.5,35.4 L472.5,35.4 L473.5,35.4 L474.5,35.5 L475.5,35.5 L476.5,35.5 L477.5,35.5 L478.5,35.6 L479.5,35.6 L480.5,35.6 L481.5,35.7 L482.5,35.7 L483.5,35.7 L484.5,35.8 L485.5,35.8 L486.5,35.9 L487.5,35.9 L488.5,36.0 L489.5,36.0 L490.5,36.1 L491.5,36.1 L492.5,36.2 L493.5,36.3 L494.5,36.3 L495.5,36.4 L496.5,36.5 L497.5,36.6 L498.5,36.7 L499.5,36.8 L500.5,36.9 L501.5,37.0 L502.5,37.1 L503.5,37.2 L504.5,37.3 L505.5,37.4 L506.5,37.6 L507.5,37.7 L508.5,37.9 L509.5,38.0 L510.5,38.2 L511.5,38.4 L512.5,38.6 L513.5,38.7 L514.5,39.0 L515.5,39.2 L516.5,39.4 L517.5,39.6 L518.5,39.9 L519.5,40.2 L520.5,40.5 L521.5,40.8 L522.5,41.1 L523.5,41.4 L524.5,41.8 L525.5,42.1 L526.5,42.5 L527.5,42.9 L528.5,43.4 L529.5,43.8 L530.5,44.3 L531.5,44.8 L532.5,45.4 L533.5,45.9 L534.5,46.5 L535.5,47.2 L536.5,47.8 L537.5,48.5 L538.5,49.2 L539.5,50.0 L540.5,50.8 L541.5,51.7 L542.5,52.6 L543.5,53.5 L544.5,54.5 L545.5,55.6 L546.5,56.7 L547.5,57.9 L548.5,59.1 L549.5,60.4 L550.5,61.7 L551.5,63.1 L552.5,64.6 L553.5,66.2 L554.5,67.9 L555.5,69.6 L556.5,71.4 L557.5,73.3 L558.5,75.3 L559.5,77.4 L560.5,79.6 L561.5,81.9 L562.5,84.3 L563.5,86.8 L564.5,89.5 L565.5,92.2 L566.5,95.1 L567.5,98.1 L568.5,101.3 L569.5,104.6 L570.5,108.0 L571.5,111.6 L572.5,115.3 L573.5,119.2 L574.5,123.3 L575.5,127.5 L576.5,131.9 L577.5,136.4 L578.5,141.1 L579.5,146.0 L580.5,151.1 L581.5,156.4 L582.5,161.8 L583.5,167.4 L584.5,173.2 L585.5,179.2 L586.5,185.4 L587.5,191.8 L588.5,198.3 L589.5,205.1 L590.5,212.0 L591.5,219.0 L592.5,226.3 L593.5,233.7 L594.5,241.3 L595.5,249.0 L596.5,256.9 L597.5,264.9 L598.5,273.1 L599.5,281.3 L600.5,289.7 L601.5,298.2 L602.5,306.8 L603.5,315.5 L604.5,324.2 L605.5,333.0 L606.5,341.8 L607.5,350.7 L608.5,359.6 L609.5,368.4 L610.5,377.3 L611.5,386.2 L612.5,395.0 L613.5,403.8 L614.5,412.5 L615.5,421.2 L616.5,429.8 L617.5,438.3 L618.5,446.7 L619.5,454.9 L620.5,463.1 L621.5,471.1 L622.5,479.0 L623.5,486.7 L624.5,494.3 L625.5,501.7 L626.5,509.0 L627.5,516.0 L628.5,522.9 L629.5,529.7 L630.5,536.2 L631.5,542.6 L632.5,548.8 L633.5,554.8 L634.5,560.6 L635.5,566.2 L636.5,571.6 L637.5,576.9 L638.5,582.0 L639.5,586.9 L640.5,591.6 L641.5,596.1 L642.5,600.5 L643.5,604.7 L644.5,608.8 L645.5,612.7 L646.5,616.4 L647.5,620.0 L648.5,623.4 L649.5,626.7 L650.5,629.9 L651.5,632.9 L652.5,635.8 L653.5,638.5 L654.5,641.2 L655.5,643.7 L656.5,646.1 L657.5,648.4 L658.5,650.6 L659.5,652.7 L660.5,654.7 L661.5,656.6 L662.5,658.4 L663.5,660.1 L664.5,661.8 L665.5,663.4 L666.5,664.9 L667.5,666.3 L668.5,667.6 L669.5,668.9 L670.5,670.1 L671.5,671.3 L672.5,672.4 L673.5,673.5 L674.5,674.5 L675.5,675.4 L676.5,676.3 L677.5,677.2 L678.5,678.0 L679.5,678.8 L680.5,679.5 L681.5,680.2 L682.5,680.8 L683.5,681.5 L684.5,682.1 L685.5,682.6 L686.5,683.2 L687.5,683.7 L688.5,684.2 L689.5,684.6 L690.5,685.1 L691.5,685.5 L692.5,685.9 L693.5,686.2 L694.5,686.6 L695.5,686.9 L696.5,687.2 L697.5,687.5 L698.5,687.8 L699.5,688.1 L700.5,688.4 L701.5,688.6 L702.5,688.8 L703.5,689.0 L704.5,689.3 L705.5,689.4 L706.5,689.6 L707.5,689.8 L708.5,690.0 L709.5,690.1 L710.5,690.3 L711.5,690.4 L712.5,690.6 L713.5,690.7 L714.5,690.8 L715.5,690.9 L716.5,691.0 L717.5,691.1 L718.5,691.2 L719.5,691.3 L720.5,691.4 L721.5,691.5 L722.5,691.6 L723.5,691.7 L724.5,691.7 L725.5,691.8 L726.5,691.9 L727.5,691.9 L728.5,692.0 L729.5,692.0 L730.5,692.1 L731.5,692.1 L732.5,692.2 L733.5,692.2 L734.5,692.3 L735.5,692.3 L736.5,692.3 L737.5,692.4 L738.5,692.4 L739.5,692.4 L740.5,692.5 L741.5,692.5 L742.5,692.5 L743.5,692.5 L744.5,692.6 L745.5,692.6 L746.5,692.6 L747.5,692.6 L748.5,692.7 L749.5,692.7 L750.5,692.7 L751.5,692.7 L752.5,692.7 L753.5,692.7 L754.5,692.7 L755.5,692.8 L756.5,692.8 L757.5,692.8 L758.5,692.8 L759.5,692.8 L760.5,692.8 L761.5,692.8 L762.5,692.8 L763.5,692.8 L764.5,692.9 L765.5,692.9 L766.5,692.9 L767.5,692.9 L768.5,692.9 L769.5,692.9 L770.5,692.9 L771.5,692.9 L772.5,692.9 L773.5,692.9 L774.5,692.9 L775.5,692.9 L776.5,692.9 L777.5,692.9 L778.5,692.9 L779.5,692.9 L780.5,692.9 L781.5,692.9 L782.5,692.9 L783.5,692.9 L784.5,693.0 L785.5,693.0 L786.5,693.0 L787.5,693.0 L788.5,693.0 L789.5,693.0 L790.5,693.0 L791.5,693.0 L792.5,693.0 L793.5,693.0 L794.5,693.0 L795.5,693.0 L796.5,693.0 L797.5,693.0 L798.5,693.0 L799.5,693.0 L800.5,693.0 L801.5,693.0 L802.5,693.0 L803.5,693.0 L804.5,693.0 L805.5,693.0 L806.5,693.0 L807.5,693.0 L808.5,693.0 L809.5,693.0 L810.5,693.0 L811.5,693.0 L812.5,693.0 L813.5,693.0 L814.5,693.0 L815.5,693.0 L816.5,693.0 L817.5,693.0 L818.5,693.0 L819.5,693.0 L820.5,693.0 L821.5,693.0 L822.5,693.0 L823.5,693.0 L824.5,693.0 L825.5,693.0 L826.5,693.0 L827.5,693.0 L828.5,693.0 L829.5,693.0 L830.5,693.0 L831.5,693.0 L832.5,693.0 L833.5,693.0 L834.5,693.0 L835.5,693.0 L836.5,693.0 L837.5,693.0 L838.5,693.0 L839.5,693.0 L840.5,693.0 L841.5,693.0 L842.5,693.0 L843.5,693.0 L844.5,693.0 L845.5,693.0 L846.5,693.0 L847.5,693.0 L848.5,693.0 L849.5,693.0 L850.5,693.0 L851.5,693.0 L852.5,693.0 L853.5,693.0 L854.5,693.0 L855.5,693.0 L856.5,693.0 L857.5,693.0 L858.5,693.0 L859.5,693.0 L860.5,693.0 L861.5,693.0 L862.5,693.0 L863.5,693.0 L864.5,693.0 L865.5,693.0 L866.5,693.0 L867.5,693.0 L868.5,693.0 L869.5,693.0 L870.5,693.0 L871.5,693.0 L872.5,693.0 L873.5,693.0 L874.5,693.0 L875.5,693.0 L876.5,693.0 L877.5,693.0 L878.5,693.0 L879.5,693.0 L880.5,693.0 L881.5,693.0 L882.5,693.0 L883.5,693.0 L884.5,693.0 L885.5,693.0 L886.5,693.0 L887.5,693.0 L888.5,693.0 L889.5,693.0 L890.5,693.0 L891.5,693.0 L892.5,693.0 L893.5,693.0 L894.5,693.0 L895.5,693.0 L896.5,693.0 L897.5,693.0 L898.5,693.0 L899.5,693.0 L900.5,693.0 L901.5,693.0 L902.5,693.0 L903.5,693.0 L904.5,693.0 L905.5,693.0 L906.5,693.0 L907.5,693.0 L908.5,693.0 L909.5,693.0 L910.5,693.0 L911.5,693.0 L912.5,693.0 L913.5,693.0 L914.5,693.0 L915.5,693.0 L916.5,693.0 L917.5,693.0 L918.5,693.0 L919.5,693.0 L920.5,693.0 L921.5,693.0 L922.5,693.0 L923.5,693.0 L924.5,693.0 L925.5,693.0 L926.5,693.0 L927.5,693.0 L928.5,693.0 L929.5,693.0 L930.5,693.0 L931.5,693.0 L932.5,693.0 L933.5,693.0 L934.5,693.0 L935.5,693.0 L936.5,693.0 L937.5,693.0 L938.5,693.0 L939.5,693.0 L940.5,693.0 L941.5,693.0 L942.5,693.0 L943.5,693.0 L944.5,693.0 L945.5,693.0 L946.5,693.0 L947.5,693.0 L948.5,693.0 L949.5,693.0 L950.5,693.0 L951.5,693.0 L952.5,693.0 L953.5,693.0 L954.5,693.0" fill="none" stroke="#000" stroke-width="3.6" stroke-linejoin="round"/><path d="M137.5,35.0 L138.5,35.0 L139.5,35.0 L140.5,35.0 L141.5,35.0 L142.5,35.0 L143.5,35.0 L144.5,35.0 L145.5,35.0 L146.5,35.0 L147.5,35.0 L148.5,35.0 L149.5,35.0 L150.5,35.0 L151.5,35.0 L152.5,35.0 L153.5,35.0 L154.5,35.0 L155.5,35.0 L156.5,35.0 L157.5,35.0 L158.5,35.0 L159.5,35.0 L160.5,35.0 L161.5,35.0 L162.5,35.0 L163.5,35.0 L164.5,35.0 L165.5,35.0 L166.5,35.0 L167.5,35.0 L168.5,35.0 L169.5,35.0 L170.5,35.0 L171.5,35.0 L172.5,35.0 L173.5,35.0 L174.5,35.0 L175.5,35.0 L176.5,35.0 L177.5,35.0 L178.5,35.0 L179.5,35.0 L180.5,35.0 L181.5,35.0 L182.5,35.0 L183.5,35.0 L184.5,35.0 L185.5,35.0 L186.5,35.0 L187.5,35.0 L188.5,35.0 L189.5,35.0 L190.5,35.0 L191.5,35.0 L192.5,35.0 L193.5,35.0 L194.5,35.0 L195.5,35.0 L196.5,35.0 L197.5,35.0 L198.5,35.0 L199.5,35.0 L200.5,35.0 L201.5,35.0 L202.5,35.0 L203.5,35.0 L204.5,35.0 L205.5,35.0 L206.5,35.0 L207.5,35.0 L208.5,35.0 L209.5,35.0 L210.5,35.0 L211.5,35.0 L212.5,35.0 L213.5,35.0 L214.5,35.0 L215.5,35.0 L216.5,35.0 L217.5,35.0 L218.5,35.0 L219.5,35.0 L220.5,35.0 L221.5,35.0 L222.5,35.0 L223.5,35.0 L224.5,35.0 L225.5,35.0 L226.5,35.0 L227.5,35.0 L228.5,35.0 L229.5,35.0 L230.5,35.0 L231.5,35.0 L232.5,35.0 L233.5,35.0 L234.5,35.0 L235.5,35.0 L236.5,35.0 L237.5,35.0 L238.5,35.0 L239.5,35.0 L240.5,35.0 L241.5,35.0 L242.5,35.0 L243.5,35.0 L244.5,35.0 L245.5,35.0 L246.5,35.0 L247.5,35.0 L248.5,35.0 L249.5,35.0 L250.5,35.0 L251.5,35.0 L252.5,35.0 L253.5,35.0 L254.5,35.0 L255.5,35.0 L256.5,35.0 L257.5,35.0 L258.5,35.0 L259.5,35.0 L260.5,35.0 L261.5,35.0 L262.5,35.0 L263.5,35.0 L264.5,35.0 L265.5,35.0 L266.5,35.0 L267.5,35.0 L268.5,35.0 L269.5,35.0 L270.5,35.0 L271.5,35.0 L272.5,35.0 L273.5,35.0 L274.5,35.0 L275.5,35.0 L276.5,35.0 L277.5,35.0 L278.5,35.0 L279.5,35.0 L280.5,35.0 L281.5,35.0 L282.5,35.0 L283.5,35.0 L284.5,35.0 L285.5,35.0 L286.5,35.0 L287.5,35.0 L288.5,35.0 L289.5,35.0 L290.5,35.0 L291.5,35.0 L292.5,35.0 L293.5,35.0 L294.5,35.0 L295.5,35.0 L296.5,35.0 L297.5,35.0 L298.5,35.0 L299.5,35.0 L300.5,35.0 L301.5,35.0 L302.5,35.0 L303.5,35.0 L304.5,35.0 L305.5,35.0 L306.5,35.0 L307.5,35.0 L308.5,35.0 L309.5,35.0 L310.5,35.0 L311.5,35.0 L312.5,35.0 L313.5,35.0 L314.5,35.0 L315.5,35.1 L316.5,35.1 L317.5,35.1 L318.5,35.1 L319.5,35.1 L320.5,35.1 L321.5,35.1 L322.5,35.1 L323.5,35.1 L324.5,35.1 L325.5,35.1 L326.5,35.1 L327.5,35.1 L328.5,35.1 L329.5,35.1 L330.5,35.1 L331.5,35.1 L332.5,35.1 L333.5,35.1 L334.5,35.1 L335.5,35.1 L336.5,35.1 L337.5,35.1 L338.5,35.1 L339.5,35.1 L340.5,35.1 L341.5,35.1 L342.5,35.1 L343.5,35.1 L344.5,35.1 L345.5,35.1 L346.5,35.1 L347.5,35.1 L348.5,35.1 L349.5,35.1 L350.5,35.2 L351.5,35.2 L352.5,35.2 L353.5,35.2 L354.5,35.2 L355.5,35.2 L356.5,35.2 L357.5,35.2 L358.5,35.2 L359.5,35.2 L360.5,35.2 L361.5,35.2 L362.5,35.2 L363.5,35.2 L364.5,35.2 L365.5,35.2 L366.5,35.3 L367.5,35.3 L368.5,35.3 L369.5,35.3 L370.5,35.3 L371.5,35.3 L372.5,35.3 L373.5,35.3 L374.5,35.3 L375.5,35.3 L376.5,35.3 L377.5,35.4 L378.5,35.4 L379.5,35.4 L380.5,35.4 L381.5,35.4 L382.5,35.4 L383.5,35.4 L384.5,35.4 L385.5,35.5 L386.5,35.5 L387.5,35.5 L388.5,35.5 L389.5,35.5 L390.5,35.5 L391.5,35.5 L392.5,35.6 L393.5,35.6 L394.5,35.6 L395.5,35.6 L396.5,35.6 L397.5,35.7 L398.5,35.7 L399.5,35.7 L400.5,35.7 L401.5,35.7 L402.5,35.8 L403.5,35.8 L404.5,35.8 L405.5,35.8 L406.5,35.9 L407.5,35.9 L408.5,35.9 L409.5,36.0 L410.5,36.0 L411.5,36.0 L412.5,36.1 L413.5,36.1 L414.5,36.1 L415.5,36.2 L416.5,36.2 L417.5,36.2 L418.5,36.3 L419.5,36.3 L420.5,36.3 L421.5,36.4 L422.5,36.4 L423.5,36.5 L424.5,36.5 L425.5,36.6 L426.5,36.6 L427.5,36.7 L428.5,36.7 L429.5,36.8 L430.5,36.8 L431.5,36.9 L432.5,37.0 L433.5,37.0 L434.5,37.1 L435.5,37.2 L436.5,37.2 L437.5,37.3 L438.5,37.4 L439.5,37.4 L440.5,37.5 L441.5,37.6 L442.5,37.7 L443.5,37.8 L444.5,37.9 L445.5,37.9 L446.5,38.0 L447.5,38.1 L448.5,38.2 L449.5,38.3 L450.5,38.4 L451.5,38.5 L452.5,38.7 L453.5,38.8 L454.5,38.9 L455.5,39.0 L456.5,39.1 L457.5,39.3 L458.5,39.4 L459.5,39.5 L460.5,39.7 L461.5,39.8 L462.5,40.0 L463.5,40.1 L464.5,40.3 L465.5,40.5 L466.5,40.6 L467.5,40.8 L468.5,41.0 L469.5,41.2 L470.5,41.4 L471.5,41.6 L472.5,41.8 L473.5,42.0 L474.5,42.2 L475.5,42.5 L476.5,42.7 L477.5,42.9 L478.5,43.2 L479.5,43.4 L480.5,43.7 L481.5,44.0 L482.5,44.3 L483.5,44.5 L484.5,44.8 L485.5,45.1 L486.5,45.5 L487.5,45.8 L488.5,46.1 L489.5,46.5 L490.5,46.8 L491.5,47.2 L492.5,47.6 L493.5,48.0 L494.5,48.4 L495.5,48.8 L496.5,49.2 L497.5,49.7 L498.5,50.1 L499.5,50.6 L500.5,51.1 L501.5,51.6 L502.5,52.1 L503.5,52.6 L504.5,53.2 L505.5,53.7 L506.5,54.3 L507.5,54.9 L508.5,55.5 L509.5,56.1 L510.5,56.8 L511.5,57.4 L512.5,58.1 L513.5,58.8 L514.5,59.6 L515.5,60.3 L516.5,61.1 L517.5,61.9 L518.5,62.7 L519.5,63.5 L520.5,64.4 L521.5,65.3 L522.5,66.2 L523.5,67.1 L524.5,68.1 L525.5,69.1 L526.5,70.1 L527.5,71.2 L528.5,72.3 L529.5,73.4 L530.5,74.5 L531.5,75.7 L532.5,76.9 L533.5,78.2 L534.5,79.4 L535.5,80.8 L536.5,82.1 L537.5,83.5 L538.5,84.9 L539.5,86.4 L540.5,87.9 L541.5,89.4 L542.5,91.0 L543.5,92.6 L544.5,94.3 L545.5,96.0 L546.5,97.7 L547.5,99.5 L548.5,101.4 L549.5,103.3 L550.5,105.2 L551.5,107.2 L552.5,109.2 L553.5,111.3 L554.5,113.4 L555.5,115.6 L556.5,117.9 L557.5,120.1 L558.5,122.5 L559.5,124.9 L560.5,127.3 L561.5,129.8 L562.5,132.4 L563.5,135.0 L564.5,137.7 L565.5,140.5 L566.5,143.3 L567.5,146.1 L568.5,149.0 L569.5,152.0 L570.5,155.0 L571.5,158.1 L572.5,161.3 L573.5,164.5 L574.5,167.8 L575.5,171.1 L576.5,174.5 L577.5,178.0 L578.5,181.5 L579.5,185.1 L580.5,188.8 L581.5,192.5 L582.5,196.3 L583.5,200.1 L584.5,204.0 L585.5,207.9 L586.5,212.0 L587.5,216.0 L588.5,220.2 L589.5,224.4 L590.5,228.6 L591.5,232.9 L592.5,237.2 L593.5,241.6 L594.5,246.1 L595.5,250.6 L596.5,255.2 L597.5,259.8 L598.5,264.4 L599.5,269.1 L600.5,273.8 L601.5,278.6 L602.5,283.4 L603.5,288.3 L604.5,293.2 L605.5,298.1 L606.5,303.0 L607.5,308.0 L608.5,313.0 L609.5,318.0 L610.5,323.1 L611.5,328.2 L612.5,333.2 L613.5,338.3 L614.5,343.5 L615.5,348.6 L616.5,353.7 L617.5,358.9 L618.5,364.0 L619.5,369.1 L620.5,374.3 L621.5,379.4 L622.5,384.5 L623.5,389.7 L624.5,394.8 L625.5,399.8 L626.5,404.9 L627.5,410.0 L628.5,415.0 L629.5,420.0 L630.5,425.0 L631.5,429.9 L632.5,434.8 L633.5,439.7 L634.5,444.6 L635.5,449.4 L636.5,454.2 L637.5,458.9 L638.5,463.6 L639.5,468.2 L640.5,472.8 L641.5,477.4 L642.5,481.9 L643.5,486.4 L644.5,490.8 L645.5,495.1 L646.5,499.4 L647.5,503.6 L648.5,507.8 L649.5,512.0 L650.5,516.0 L651.5,520.1 L652.5,524.0 L653.5,527.9 L654.5,531.7 L655.5,535.5 L656.5,539.2 L657.5,542.9 L658.5,546.5 L659.5,550.0 L660.5,553.5 L661.5,556.9 L662.5,560.2 L663.5,563.5 L664.5,566.7 L665.5,569.9 L666.5,573.0 L667.5,576.0 L668.5,579.0 L669.5,581.9 L670.5,584.7 L671.5,587.5 L672.5,590.3 L673.5,593.0 L674.5,595.6 L675.5,598.2 L676.5,600.7 L677.5,603.1 L678.5,605.5 L679.5,607.9 L680.5,610.1 L681.5,612.4 L682.5,614.6 L683.5,616.7 L684.5,618.8 L685.5,620.8 L686.5,622.8 L687.5,624.7 L688.5,626.6 L689.5,628.5 L690.5,630.3 L691.5,632.0 L692.5,633.7 L693.5,635.4 L694.5,637.0 L695.5,638.6 L696.5,640.1 L697.5,641.6 L698.5,643.1 L699.5,644.5 L700.5,645.9 L701.5,647.2 L702.5,648.6 L703.5,649.8 L704.5,651.1 L705.5,652.3 L706.5,653.5 L707.5,654.6 L708.5,655.7 L709.5,656.8 L710.5,657.9 L711.5,658.9 L712.5,659.9 L713.5,660.9 L714.5,661.8 L715.5,662.7 L716.5,663.6 L717.5,664.5 L718.5,665.3 L719.5,666.1 L720.5,666.9 L721.5,667.7 L722.5,668.4 L723.5,669.2 L724.5,669.9 L725.5,670.6 L726.5,671.2 L727.5,671.9 L728.5,672.5 L729.5,673.1 L730.5,673.7 L731.5,674.3 L732.5,674.8 L733.5,675.4 L734.5,675.9 L735.5,676.4 L736.5,676.9 L737.5,677.4 L738.5,677.9 L739.5,678.3 L740.5,678.8 L741.5,679.2 L742.5,679.6 L743.5,680.0 L744.5,680.4 L745.5,680.8 L746.5,681.2 L747.5,681.5 L748.5,681.9 L749.5,682.2 L750.5,682.5 L751.5,682.9 L752.5,683.2 L753.5,683.5 L754.5,683.7 L755.5,684.0 L756.5,684.3 L757.5,684.6 L758.5,684.8 L759.5,685.1 L760.5,685.3 L761.5,685.5 L762.5,685.8 L763.5,686.0 L764.5,686.2 L765.5,686.4 L766.5,686.6 L767.5,686.8 L768.5,687.0 L769.5,687.2 L770.5,687.4 L771.5,687.5 L772.5,687.7 L773.5,687.9 L774.5,688.0 L775.5,688.2 L776.5,688.3 L777.5,688.5 L778.5,688.6 L779.5,688.7 L780.5,688.9 L781.5,689.0 L782.5,689.1 L783.5,689.2 L784.5,689.3 L785.5,689.5 L786.5,689.6 L787.5,689.7 L788.5,689.8 L789.5,689.9 L790.5,690.0 L791.5,690.1 L792.5,690.1 L793.5,690.2 L794.5,690.3 L795.5,690.4 L796.5,690.5 L797.5,690.6 L798.5,690.6 L799.5,690.7 L800.5,690.8 L801.5,690.8 L802.5,690.9 L803.5,691.0 L804.5,691.0 L805.5,691.1 L806.5,691.2 L807.5,691.2 L808.5,691.3 L809.5,691.3 L810.5,691.4 L811.5,691.4 L812.5,691.5 L813.5,691.5 L814.5,691.6 L815.5,691.6 L816.5,691.7 L817.5,691.7 L818.5,691.7 L819.5,691.8 L820.5,691.8 L821.5,691.8 L822.5,691.9 L823.5,691.9 L824.5,691.9 L825.5,692.0 L826.5,692.0 L827.5,692.0 L828.5,692.1 L829.5,692.1 L830.5,692.1 L831.5,692.2 L832.5,692.2 L833.5,692.2 L834.5,692.2 L835.5,692.3 L836.5,692.3 L837.5,692.3 L838.5,692.3 L839.5,692.3 L840.5,692.4 L841.5,692.4 L842.5,692.4 L843.5,692.4 L844.5,692.4 L845.5,692.5 L846.5,692.5 L847.5,692.5 L848.5,692.5 L849.5,692.5 L850.5,692.5 L851.5,692.5 L852.5,692.6 L853.5,692.6 L854.5,692.6 L855.5,692.6 L856.5,692.6 L857.5,692.6 L858.5,692.6 L859.5,692.6 L860.5,692.7 L861.5,692.7 L862.5,692.7 L863.5,692.7 L864.5,692.7 L865.5,692.7 L866.5,692.7 L867.5,692.7 L868.5,692.7 L869.5,692.7 L870.5,692.7 L871.5,692.8 L872.5,692.8 L873.5,692.8 L874.5,692.8 L875.5,692.8 L876.5,692.8 L877.5,692.8 L878.5,692.8 L879.5,692.8 L880.5,692.8 L881.5,692.8 L882.5,692.8 L883.5,692.8 L884.5,692.8 L885.5,692.8 L886.5,692.8 L887.5,692.9 L888.5,692.9 L889.5,692.9 L890.5,692.9 L891.5,692.9 L892.5,692.9 L893.5,692.9 L894.5,692.9 L895.5,692.9 L896.5,692.9 L897.5,692.9 L898.5,692.9 L899.5,692.9 L900.5,692.9 L901.5,692.9 L902.5,692.9 L903.5,692.9 L904.5,692.9 L905.5,692.9 L906.5,692.9 L907.5,692.9 L908.5,692.9 L909.5,692.9 L910.5,692.9 L911.5,692.9 L912.5,692.9 L913.5,692.9 L914.5,692.9 L915.5,692.9 L916.5,692.9 L917.5,692.9 L918.5,692.9 L919.5,692.9 L920.5,692.9 L921.5,692.9 L922.5,693.0 L923.5,693.0 L924.5,693.0 L925.5,693.0 L926.5,693.0 L927.5,693.0 L928.5,693.0 L929.5,693.0 L930.5,693.0 L931.5,693.0 L932.5,693.0 L933.5,693.0 L934.5,693.0 L935.5,693.0 L936.5,693.0 L937.5,693.0 L938.5,693.0 L939.5,693.0 L940.5,693.0 L941.5,693.0 L942.5,693.0 L943.5,693.0 L944.5,693.0 L945.5,693.0 L946.5,693.0 L947.5,693.0 L948.5,693.0 L949.5,693.0 L950.5,693.0 L951.5,693.0 L952.5,693.0 L953.5,693.0 L954.5,693.0" fill="none" stroke="#000" stroke-width="3.6" stroke-linejoin="round"/><path d="M137.5,35.0 L138.5,35.0 L139.5,35.0 L140.5,35.0 L141.5,35.0 L142.5,35.0 L143.5,35.0 L144.5,35.0 L145.5,35.0 L146.5,35.0 L147.5,35.0 L148.5,35.0 L149.5,35.0 L150.5,35.0 L151.5,35.0 L152.5,35.0 L153.5,35.0 L154.5,35.0 L155.5,35.0 L156.5,35.0 L157.5,35.0 L158.5,35.0 L159.5,35.0 L160.5,35.0 L161.5,35.0 L162.5,35.0 L163.5,35.0 L164.5,35.0 L165.5,35.0 L166.5,35.0 L167.5,35.0 L168.5,35.0 L169.5,35.0 L170.5,35.0 L171.5,35.0 L172.5,35.0 L173.5,35.0 L174.5,35.0 L175.5,35.0 L176.5,35.0 L177.5,35.0 L178.5,35.0 L179.5,35.0 L180.5,35.0 L181.5,35.0 L182.5,35.0 L183.5,35.0 L184.5,35.0 L185.5,35.0 L186.5,35.0 L187.5,35.0 L188.5,35.0 L189.5,35.0 L190.5,35.0 L191.5,35.0 L192.5,35.0 L193.5,35.0 L194.5,35.0 L195.5,35.0 L196.5,35.0 L197.5,35.0 L198.5,35.0 L199.5,35.0 L200.5,35.0 L201.5,35.0 L202.5,35.0 L203.5,35.0 L204.5,35.0 L205.5,35.0 L206.5,35.0 L207.5,35.0 L208.5,35.0 L209.5,35.0 L210.5,35.0 L211.5,35.0 L212.5,35.0 L213.5,35.0 L214.5,35.0 L215.5,35.0 L216.5,35.0 L217.5,35.0 L218.5,35.0 L219.5,35.0 L220.5,35.0 L221.5,35.0 L222.5,35.0 L223.5,35.0 L224.5,35.0 L225.5,35.0 L226.5,35.0 L227.5,35.0 L228.5,35.0 L229.5,35.0 L230.5,35.0 L231.5,35.0 L232.5,35.0 L233.5,35.0 L234.5,35.0 L235.5,35.0 L236.5,35.0 L237.5,35.0 L238.5,35.0 L239.5,35.0 L240.5,35.0 L241.5,35.0 L242.5,35.0 L243.5,35.0 L244.5,35.0 L245.5,35.0 L246.5,35.0 L247.5,35.0 L248.5,35.0 L249.5,35.0 L250.5,35.0 L251.5,35.0 L252.5,35.0 L253.5,35.0 L254.5,35.0 L255.5,35.0 L256.5,35.0 L257.5,35.0 L258.5,35.0 L259.5,35.0 L260.5,35.0 L261.5,35.0 L262.5,35.0 L263.5,35.0 L264.5,35.0 L265.5,35.0 L266.5,35.0 L267.5,35.0 L268.5,35.0 L269.5,35.0 L270.5,35.0 L271.5,35.0 L272.5,35.0 L273.5,35.0 L274.5,35.0 L275.5,35.0 L276.5,35.0 L277.5,35.0 L278.5,35.0 L279.5,35.0 L280.5,35.0 L281.5,35.0 L282.5,35.0 L283.5,35.0 L284.5,35.0 L285.5,35.0 L286.5,35.0 L287.5,35.0 L288.5,35.0 L289.5,35.0 L290.5,35.0 L291.5,35.0 L292.5,35.0 L293.5,35.0 L294.5,35.0 L295.5,35.0 L296.5,35.0 L297.5,35.0 L298.5,35.0 L299.5,35.0 L300.5,35.0 L301.5,35.0 L302.5,35.0 L303.5,35.0 L304.5,35.0 L305.5,35.0 L306.5,35.0 L307.5,35.0 L308.5,35.0 L309.5,35.0 L310.5,35.0 L311.5,35.0 L312.5,35.0 L313.5,35.0 L314.5,35.0 L315.5,35.0 L316.5,35.0 L317.5,35.0 L318.5,35.0 L319.5,35.0 L320.5,35.0 L321.5,35.0 L322.5,35.0 L323.5,35.0 L324.5,35.0 L325.5,35.0 L326.5,35.0 L327.5,35.0 L328.5,35.0 L329.5,35.0 L330.5,35.0 L331.5,35.0 L332.5,35.0 L333.5,35.0 L334.5,35.0 L335.5,35.0 L336.5,35.0 L337.5,35.0 L338.5,35.0 L339.5,35.0 L340.5,35.0 L341.5,35.0 L342.5,35.0 L343.5,35.0 L344.5,35.0 L345.5,35.0 L346.5,35.0 L347.5,35.1 L348.5,35.1 L349.5,35.1 L350.5,35.1 L351.5,35.1 L352.5,35.1 L353.5,35.1 L354.5,35.1 L355.5,35.1 L356.5,35.1 L357.5,35.1 L358.5,35.1 L359.5,35.1 L360.5,35.1 L361.5,35.1 L362.5,35.1 L363.5,35.1 L364.5,35.1 L365.5,35.1 L366.5,35.1 L367.5,35.1 L368.5,35.1 L369.5,35.1 L370.5,35.1 L371.5,35.1 L372.5,35.1 L373.5,35.1 L374.5,35.1 L375.5,35.1 L376.5,35.1 L377.5,35.1 L378.5,35.1 L379.5,35.1 L380.5,35.2 L381.5,35.2 L382.5,35.2 L383.5,35.2 L384.5,35.2 L385.5,35.2 L386.5,35.2 L387.5,35.2 L388.5,35.2 L389.5,35.2 L390.5,35.2 L391.5,35.2 L392.5,35.2 L393.5,35.2 L394.5,35.2 L395.5,35.2 L396.5,35.3 L397.5,35.3 L398.5,35.3 L399.5,35.3 L400.5,35.3 L401.5,35.3 L402.5,35.3 L403.5,35.3 L404.5,35.3 L405.5,35.3 L406.5,35.4 L407.5,35.4 L408.5,35.4 L409.5,35.4 L410.5,35.4 L411.5,35.4 L412.5,35.4 L413.5,35.5 L414.5,35.5 L415.5,35.5 L416.5,35.5 L417.5,35.5 L418.5,35.5 L419.5,35.6 L420.5,35.6 L421.5,35.6 L422.5,35.6 L423.5,35.6 L424.5,35.7 L425.5,35.7 L426.5,35.7 L427.5,35.7 L428.5,35.7 L429.5,35.8 L430.5,35.8 L431.5,35.8 L432.5,35.9 L433.5,35.9 L434.5,35.9 L435.5,35.9 L436.5,36.0 L437.5,36.0 L438.5,36.0 L439.5,36.1 L440.5,36.1 L441.5,36.1 L442.5,36.2 L443.5,36.2 L444.5,36.3 L445.5,36.3 L446.5,36.4 L447.5,36.4 L448.5,36.4 L449.5,36.5 L450.5,36.5 L451.5,36.6 L452.5,36.7 L453.5,36.7 L454.5,36.8 L455.5,36.8 L456.5,36.9 L457.5,37.0 L458.5,37.0 L459.5,37.1 L460.5,37.2 L461.5,37.2 L462.5,37.3 L463.5,37.4 L464.5,37.5 L465.5,37.5 L466.5,37.6 L467.5,37.7 L468.5,37.8 L469.5,37.9 L470.5,38.0 L471.5,38.1 L472.5,38.2 L473.5,38.3 L474.5,38.4 L475.5,38.6 L476.5,38.7 L477.5,38.8 L478.5,38.9 L479.5,39.1 L480.5,39.2 L481.5,39.3 L482.5,39.5 L483.5,39.6 L484.5,39.8 L485.5,39.9 L486.5,40.1 L487.5,40.3 L488.5,40.5 L489.5,40.6 L490.5,40.8 L491.5,41.0 L492.5,41.2 L493.5,41.4 L494.5,41.7 L495.5,41.9 L496.5,42.1 L497.5,42.3 L498.5,42.6 L499.5,42.9 L500.5,43.1 L501.5,43.4 L502.5,43.7 L503.5,44.0 L504.5,44.3 L505.5,44.6 L506.5,44.9 L507.5,45.2 L508.5,45.6 L509.5,45.9 L510.5,46.3 L511.5,46.6 L512.5,47.0 L513.5,47.4 L514.5,47.8 L515.5,48.3 L516.5,48.7 L517.5,49.2 L518.5,49.6 L519.5,50.1 L520.5,50.6 L521.5,51.1 L522.5,51.7 L523.5,52.2 L524.5,52.8 L525.5,53.4 L526.5,54.0 L527.5,54.6 L528.5,55.2 L529.5,55.9 L530.5,56.6 L531.5,57.3 L532.5,58.0 L533.5,58.8 L534.5,59.6 L535.5,60.4 L536.5,61.2 L537.5,62.0 L538.5,62.9 L539.5,63.8 L540.5,64.8 L541.5,65.7 L542.5,66.7 L543.5,67.7 L544.5,68.8 L545.5,69.9 L546.5,71.0 L547.5,72.1 L548.5,73.3 L549.5,74.5 L550.5,75.8 L551.5,77.1 L552.5,78.4 L553.5,79.8 L554.5,81.2 L555.5,82.7 L556.5,84.2 L557.5,85.7 L558.5,87.3 L559.5,88.9 L560.5,90.6 L561.5,92.3 L562.5,94.1 L563.5,95.9 L564.5,97.7 L565.5,99.7 L566.5,101.6 L567.5,103.6 L568.5,105.7 L569.5,107.9 L570.5,110.0 L571.5,112.3 L572.5,114.6 L573.5,117.0 L574.5,119.4 L575.5,121.9 L576.5,124.4 L577.5,127.0 L578.5,129.7 L579.5,132.4 L580.5,135.2 L581.5,138.1 L582.5,141.0 L583.5,144.0 L584.5,147.1 L585.5,150.2 L586.5,153.4 L587.5,156.7 L588.5,160.0 L589.5,163.4 L590.5,166.9 L591.5,170.5 L592.5,174.1 L593.5,177.8 L594.5,181.5 L595.5,185.4 L596.5,189.3 L597.5,193.2 L598.5,197.3 L599.5,201.4 L600.5,205.6 L601.5,209.8 L602.5,214.1 L603.5,218.5 L604.5,222.9 L605.5,227.5 L606.5,232.0 L607.5,236.7 L608.5,241.4 L609.5,246.1 L610.5,250.9 L611.5,255.8 L612.5,260.7 L613.5,265.7 L614.5,270.7 L615.5,275.7 L616.5,280.8 L617.5,286.0 L618.5,291.2 L619.5,296.4 L620.5,301.7 L621.5,307.0 L622.5,312.3 L623.5,317.7 L624.5,323.1 L625.5,328.5 L626.5,333.9 L627.5,339.4 L628.5,344.8 L629.5,350.3 L630.5,355.8 L631.5,361.3 L632.5,366.7 L633.5,372.2 L634.5,377.7 L635.5,383.2 L636.5,388.6 L637.5,394.1 L638.5,399.5 L639.5,404.9 L640.5,410.3 L641.5,415.7 L642.5,421.0 L643.5,426.3 L644.5,431.6 L645.5,436.8 L646.5,442.0 L647.5,447.2 L648.5,452.3 L649.5,457.3 L650.5,462.3 L651.5,467.3 L652.5,472.2 L653.5,477.1 L654.5,481.9 L655.5,486.6 L656.5,491.3 L657.5,496.0 L658.5,500.5 L659.5,505.1 L660.5,509.5 L661.5,513.9 L662.5,518.2 L663.5,522.4 L664.5,526.6 L665.5,530.7 L666.5,534.8 L667.5,538.7 L668.5,542.6 L669.5,546.5 L670.5,550.2 L671.5,553.9 L672.5,557.5 L673.5,561.1 L674.5,564.6 L675.5,568.0 L676.5,571.3 L677.5,574.6 L678.5,577.8 L679.5,580.9 L680.5,584.0 L681.5,587.0 L682.5,589.9 L683.5,592.8 L684.5,595.6 L685.5,598.3 L686.5,601.0 L687.5,603.6 L688.5,606.1 L689.5,608.6 L690.5,611.0 L691.5,613.4 L692.5,615.7 L693.5,618.0 L694.5,620.1 L695.5,622.3 L696.5,624.4 L697.5,626.4 L698.5,628.3 L699.5,630.3 L700.5,632.1 L701.5,633.9 L702.5,635.7 L703.5,637.4 L704.5,639.1 L705.5,640.7 L706.5,642.3 L707.5,643.8 L708.5,645.3 L709.5,646.8 L710.5,648.2 L711.5,649.6 L712.5,650.9 L713.5,652.2 L714.5,653.5 L715.5,654.7 L716.5,655.9 L717.5,657.0 L718.5,658.1 L719.5,659.2 L720.5,660.3 L721.5,661.3 L722.5,662.3 L723.5,663.2 L724.5,664.2 L725.5,665.1 L726.5,666.0 L727.5,666.8 L728.5,667.6 L729.5,668.4 L730.5,669.2 L731.5,670.0 L732.5,670.7 L733.5,671.4 L734.5,672.1 L735.5,672.8 L736.5,673.4 L737.5,674.0 L738.5,674.6 L739.5,675.2 L740.5,675.8 L741.5,676.3 L742.5,676.9 L743.5,677.4 L744.5,677.9 L745.5,678.4 L746.5,678.8 L747.5,679.3 L748.5,679.7 L749.5,680.2 L750.5,680.6 L751.5,681.0 L752.5,681.4 L753.5,681.7 L754.5,682.1 L755.5,682.4 L756.5,682.8 L757.5,683.1 L758.5,683.4 L759.5,683.7 L760.5,684.0 L761.5,684.3 L762.5,684.6 L763.5,684.9 L764.5,685.1 L765.5,685.4 L766.5,685.7 L767.5,685.9 L768.5,686.1 L769.5,686.3 L770.5,686.6 L771.5,686.8 L772.5,687.0 L773.5,687.2 L774.5,687.4 L775.5,687.5 L776.5,687.7 L777.5,687.9 L778.5,688.1 L779.5,688.2 L780.5,688.4 L781.5,688.5 L782.5,688.7 L783.5,688.8 L784.5,688.9 L785.5,689.1 L786.5,689.2 L787.5,689.3 L788.5,689.4 L789.5,689.6 L790.5,689.7 L791.5,689.8 L792.5,689.9 L793.5,690.0 L794.5,690.1 L795.5,690.2 L796.5,690.3 L797.5,690.4 L798.5,690.5 L799.5,690.5 L800.5,690.6 L801.5,690.7 L802.5,690.8 L803.5,690.8 L804.5,690.9 L805.5,691.0 L806.5,691.0 L807.5,691.1 L808.5,691.2 L809.5,691.2 L810.5,691.3 L811.5,691.3 L812.5,691.4 L813.5,691.5 L814.5,691.5 L815.5,691.6 L816.5,691.6 L817.5,691.6 L818.5,691.7 L819.5,691.7 L820.5,691.8 L821.5,691.8 L822.5,691.9 L823.5,691.9 L824.5,691.9 L825.5,692.0 L826.5,692.0 L827.5,692.0 L828.5,692.1 L829.5,692.1 L830.5,692.1 L831.5,692.1 L832.5,692.2 L833.5,692.2 L834.5,692.2 L835.5,692.3 L836.5,692.3 L837.5,692.3 L838.5,692.3 L839.5,692.3 L840.5,692.4 L841.5,692.4 L842.5,692.4 L843.5,692.4 L844.5,692.4 L845.5,692.5 L846.5,692.5 L847.5,692.5 L848.5,692.5 L849.5,692.5 L850.5,692.5 L851.5,692.6 L852.5,692.6 L853.5,692.6 L854.5,692.6 L855.5,692.6 L856.5,692.6 L857.5,692.6 L858.5,692.7 L859.5,692.7 L860.5,692.7 L861.5,692.7 L862.5,692.7 L863.5,692.7 L864.5,692.7 L865.5,692.7 L866.5,692.7 L867.5,692.7 L868.5,692.8 L869.5,692.8 L870.5,692.8 L871.5,692.8 L872.5,692.8 L873.5,692.8 L874.5,692.8 L875.5,692.8 L876.5,692.8 L877.5,692.8 L878.5,692.8 L879.5,692.8 L880.5,692.8 L881.5,692.8 L882.5,692.8 L883.5,692.8 L884.5,692.9 L885.5,692.9 L886.5,692.9 L887.5,692.9 L888.5,692.9 L889.5,692.9 L890.5,692.9 L891.5,692.9 L892.5,692.9 L893.5,692.9 L894.5,692.9 L895.5,692.9 L896.5,692.9 L897.5,692.9 L898.5,692.9 L899.5,692.9 L900.5,692.9 L901.5,692.9 L902.5,692.9 L903.5,692.9 L904.5,692.9 L905.5,692.9 L906.5,692.9 L907.5,692.9 L908.5,692.9 L909.5,692.9 L910.5,692.9 L911.5,692.9 L912.5,692.9 L913.5,692.9 L914.5,692.9 L915.5,692.9 L916.5,692.9 L917.5,693.0 L918.5,693.0 L919.5,693.0 L920.5,693.0 L921.5,693.0 L922.5,693.0 L923.5,693.0 L924.5,693.0 L925.5,693.0 L926.5,693.0 L927.5,693.0 L928.5,693.0 L929.5,693.0 L930.5,693.0 L931.5,693.0 L932.5,693.0 L933.5,693.0 L934.5,693.0 L935.5,693.0 L936.5,693.0 L937.5,693.0 L938.5,693.0 L939.5,693.0 L940.5,693.0 L941.5,693.0 L942.5,693.0 L943.5,693.0 L944.5,693.0 L945.5,693.0 L946.5,693.0 L947.5,693.0 L948.5,693.0 L949.5,693.0 L950.5,693.0 L951.5,693.0 L952.5,693.0 L953.5,693.0 L954.5,693.0" fill="none" stroke="#000" stroke-width="3.6" stroke-linejoin="round"/><path d="M137.5,35.0 L138.5,35.0 L139.5,35.0 L140.5,35.0 L141.5,35.0 L142.5,35.0 L143.5,35.0 L144.5,35.0 L145.5,35.0 L146.5,35.0 L147.5,35.0 L148.5,35.0 L149.5,35.0 L150.5,35.0 L151.5,35.0 L152.5,35.0 L153.5,35.0 L154.5,35.0 L155.5,35.0 L156.5,35.0 L157.5,35.0 L158.5,35.0 L159.5,35.0 L160.5,35.0 L161.5,35.0 L162.5,35.0 L163.5,35.0 L164.5,35.0 L165.5,35.0 L166.5,35.0 L167.5,35.0 L168.5,35.0 L169.5,35.0 L170.5,35.0 L171.5,35.0 L172.5,35.0 L173.5,35.0 L174.5,35.0 L175.5,35.0 L176.5,35.0 L177.5,35.0 L178.5,35.0 L179.5,35.0 L180.5,35.0 L181.5,35.0 L182.5,35.0 L183.5,35.0 L184.5,35.0 L185.5,35.0 L186.5,35.0 L187.5,35.0 L188.5,35.0 L189.5,35.0 L190.5,35.0 L191.5,35.0 L192.5,35.0 L193.5,35.0 L194.5,35.0 L195.5,35.0 L196.5,35.0 L197.5,35.0 L198.5,35.0 L199.5,35.0 L200.5,35.0 L201.5,35.0 L202.5,35.0 L203.5,35.0 L204.5,35.0 L205.5,35.0 L206.5,35.0 L207.5,35.0 L208.5,35.0 L209.5,35.0 L210.5,35.0 L211.5,35.0 L212.5,35.0 L213.5,35.0 L214.5,35.0 L215.5,35.0 L216.5,35.0 L217.5,35.0 L218.5,35.0 L219.5,35.0 L220.5,35.0 L221.5,35.0 L222.5,35.0 L223.5,35.0 L224.5,35.0 L225.5,35.0 L226.5,35.0 L227.5,35.0 L228.5,35.0 L229.5,35.0 L230.5,35.0 L231.5,35.0 L232.5,35.0 L233.5,35.0 L234.5,35.0 L235.5,35.0 L236.5,35.0 L237.5,35.0 L238.5,35.0 L239.5,35.0 L240.5,35.0 L241.5,35.0 L242.5,35.0 L243.5,35.0 L244.5,35.0 L245.5,35.0 L246.5,35.0 L247.5,35.0 L248.5,35.0 L249.5,35.0 L250.5,35.0 L251.5,35.0 L252.5,35.0 L253.5,35.0 L254.5,35.0 L255.5,35.0 L256.5,35.0 L257.5,35.0 L258.5,35.0 L259.5,35.0 L260.5,35.0 L261.5,35.0 L262.5,35.0 L263.5,35.0 L264.5,35.0 L265.5,35.0 L266.5,35.0 L267.5,35.0 L268.5,35.0 L269.5,35.0 L270.5,35.0 L271.5,35.0 L272.5,35.0 L273.5,35.0 L274.5,35.0 L275.5,35.0 L276.5,35.0 L277.5,35.0 L278.5,35.0 L279.5,35.0 L280.5,35.0 L281.5,35.0 L282.5,35.0 L283.5,35.0 L284.5,35.0 L285.5,35.0 L286.5,35.0 L287.5,35.0 L288.5,35.0 L289.5,35.0 L290.5,35.0 L291.5,35.0 L292.5,35.0 L293.5,35.0 L294.5,35.0 L295.5,35.0 L296.5,35.0 L297.5,35.0 L298.5,35.0 L299.5,35.0 L300.5,35.0 L301.5,35.0 L302.5,35.0 L303.5,35.0 L304.5,35.0 L305.5,35.0 L306.5,35.0 L307.5,35.0 L308.5,35.0 L309.5,35.0 L310.5,35.0 L311.5,35.0 L312.5,35.0 L313.5,35.0 L314.5,35.0 L315.5,35.0 L316.5,35.0 L317.5,35.0 L318.5,35.0 L319.5,35.0 L320.5,35.0 L321.5,35.0 L322.5,35.0 L323.5,35.0 L324.5,35.0 L325.5,35.0 L326.5,35.0 L327.5,35.0 L328.5,35.0 L329.5,35.0 L330.5,35.0 L331.5,35.0 L332.5,35.0 L333.5,35.0 L334.5,35.0 L335.5,35.0 L336.5,35.0 L337.5,35.0 L338.5,35.0 L339.5,35.0 L340.5,35.0 L341.5,35.0 L342.5,35.0 L343.5,35.0 L344.5,35.0 L345.5,35.0 L346.5,35.0 L347.5,35.0 L348.5,35.0 L349.5,35.0 L350.5,35.0 L351.5,35.0 L352.5,35.0 L353.5,35.0 L354.5,35.0 L355.5,35.0 L356.5,35.0 L357.5,35.0 L358.5,35.0 L359.5,35.0 L360.5,35.0 L361.5,35.0 L362.5,35.0 L363.5,35.0 L364.5,35.0 L365.5,35.0 L366.5,35.0 L367.5,35.0 L368.5,35.0 L369.5,35.0 L370.5,35.0 L371.5,35.0 L372.5,35.0 L373.5,35.0 L374.5,35.0 L375.5,35.0 L376.5,35.0 L377.5,35.0 L378.5,35.0 L379.5,35.0 L380.5,35.0 L381.5,35.0 L382.5,35.0 L383.5,35.0 L384.5,35.0 L385.5,35.0 L386.5,35.0 L387.5,35.0 L388.5,35.0 L389.5,35.0 L390.5,35.0 L391.5,35.0 L392.5,35.0 L393.5,35.0 L394.5,35.0 L395.5,35.0 L396.5,35.0 L397.5,35.0 L398.5,35.0 L399.5,35.0 L400.5,35.0 L401.5,35.0 L402.5,35.0 L403.5,35.0 L404.5,35.0 L405.5,35.0 L406.5,35.0 L407.5,35.0 L408.5,35.1 L409.5,35.1 L410.5,35.1 L411.5,35.1 L412.5,35.1 L413.5,35.1 L414.5,35.1 L415.5,35.1 L416.5,35.1 L417.5,35.1 L418.5,35.1 L419.5,35.1 L420.5,35.1 L421.5,35.1 L422.5,35.1 L423.5,35.1 L424.5,35.1 L425.5,35.1 L426.5,35.1 L427.5,35.1 L428.5,35.1 L429.5,35.1 L430.5,35.1 L431.5,35.1 L432.5,35.1 L433.5,35.1 L434.5,35.1 L435.5,35.2 L436.5,35.2 L437.5,35.2 L438.5,35.2 L439.5,35.2 L440.5,35.2 L441.5,35.2 L442.5,35.2 L443.5,35.2 L444.5,35.2 L445.5,35.2 L446.5,35.2 L447.5,35.3 L448.5,35.3 L449.5,35.3 L450.5,35.3 L451.5,35.3 L452.5,35.3 L453.5,35.3 L454.5,35.3 L455.5,35.4 L456.5,35.4 L457.5,35.4 L458.5,35.4 L459.5,35.4 L460.5,35.4 L461.5,35.5 L462.5,35.5 L463.5,35.5 L464.5,35.5 L465.5,35.5 L466.5,35.6 L467.5,35.6 L468.5,35.6 L469.5,35.6 L470.5,35.7 L471.5,35.7 L472.5,35.7 L473.5,35.7 L474.5,35.8 L475.5,35.8 L476.5,35.8 L477.5,35.9 L478.5,35.9 L479.5,35.9 L480.5,36.0 L481.5,36.0 L482.5,36.1 L483.5,36.1 L484.5,36.2 L485.5,36.2 L486.5,36.2 L487.5,36.3 L488.5,36.4 L489.5,36.4 L490.5,36.5 L491.5,36.5 L492.5,36.6 L493.5,36.7 L494.5,36.7 L495.5,36.8 L496.5,36.9 L497.5,37.0 L498.5,37.0 L499.5,37.1 L500.5,37.2 L501.5,37.3 L502.5,37.4 L503.5,37.5 L504.5,37.6 L505.5,37.7 L506.5,37.8 L507.5,37.9 L508.5,38.1 L509.5,38.2 L510.5,38.3 L511.5,38.5 L512.5,38.6 L513.5,38.7 L514.5,38.9 L515.5,39.1 L516.5,39.2 L517.5,39.4 L518.5,39.6 L519.5,39.8 L520.5,40.0 L521.5,40.2 L522.5,40.4 L523.5,40.6 L524.5,40.8 L525.5,41.1 L526.5,41.3 L527.5,41.6 L528.5,41.9 L529.5,42.2 L530.5,42.5 L531.5,42.8 L532.5,43.1 L533.5,43.4 L534.5,43.8 L535.5,44.1 L536.5,44.5 L537.5,44.9 L538.5,45.3 L539.5,45.7 L540.5,46.1 L541.5,46.6 L542.5,47.1 L543.5,47.6 L544.5,48.1 L545.5,48.6 L546.5,49.2 L547.5,49.7 L548.5,50.3 L549.5,51.0 L550.5,51.6 L551.5,52.3 L552.5,53.0 L553.5,53.7 L554.5,54.5 L555.5,55.3 L556.5,56.1 L557.5,56.9 L558.5,57.8 L559.5,58.7 L560.5,59.7 L561.5,60.7 L562.5,61.7 L563.5,62.8 L564.5,63.9 L565.5,65.0 L566.5,66.2 L567.5,67.4 L568.5,68.7 L569.5,70.1 L570.5,71.4 L571.5,72.9 L572.5,74.3 L573.5,75.9 L574.5,77.5 L575.5,79.1 L576.5,80.8 L577.5,82.6 L578.5,84.4 L579.5,86.3 L580.5,88.3 L581.5,90.3 L582.5,92.4 L583.5,94.6 L584.5,96.9 L585.5,99.2 L586.5,101.6 L587.5,104.1 L588.5,106.7 L589.5,109.3 L590.5,112.0 L591.5,114.9 L592.5,117.8 L593.5,120.8 L594.5,123.9 L595.5,127.0 L596.5,130.3 L597.5,133.7 L598.5,137.2 L599.5,140.7 L600.5,144.4 L601.5,148.2 L602.5,152.1 L603.5,156.0 L604.5,160.1 L605.5,164.3 L606.5,168.6 L607.5,173.0 L608.5,177.5 L609.5,182.1 L610.5,186.8 L611.5,191.7 L612.5,196.6 L613.5,201.6 L614.5,206.7 L615.5,212.0 L616.5,217.3 L617.5,222.7 L618.5,228.2 L619.5,233.9 L620.5,239.6 L621.5,245.4 L622.5,251.3 L623.5,257.2 L624.5,263.3 L625.5,269.4 L626.5,275.6 L627.5,281.8 L628.5,288.2 L629.5,294.6 L630.5,301.0 L631.5,307.5 L632.5,314.0 L633.5,320.6 L634.5,327.2 L635.5,333.9 L636.5,340.5 L637.5,347.2 L638.5,353.9 L639.5,360.6 L640.5,367.0 L641.5,373.0 L642.5,378.9 L643.5,384.9 L644.5,390.9 L645.5,396.8 L646.5,402.7 L647.5,408.6 L648.5,414.4 L649.5,420.3 L650.5,426.1 L651.5,431.8 L652.5,437.5 L653.5,443.2 L654.5,448.8 L655.5,454.3 L656.5,459.8 L657.5,465.3 L658.5,470.7 L659.5,476.0 L660.5,481.2 L661.5,486.4 L662.5,491.6 L663.5,496.6 L664.5,501.6 L665.5,506.5 L666.5,511.3 L667.5,516.0 L668.5,520.7 L669.5,525.3 L670.5,529.8 L671.5,534.2 L672.5,538.6 L673.5,542.8 L674.5,547.0 L675.5,551.1 L676.5,555.1 L677.5,559.0 L678.5,562.8 L679.5,566.6 L680.5,570.3 L681.5,573.9 L682.5,577.4 L683.5,580.8 L684.5,584.1 L685.5,587.4 L686.5,590.6 L687.5,593.7 L688.5,596.7 L689.5,599.7 L690.5,602.5 L691.5,605.3 L692.5,608.1 L693.5,610.7 L694.5,613.3 L695.5,615.8 L696.5,618.3 L697.5,620.6 L698.5,622.9 L699.5,625.2 L700.5,627.4 L701.5,629.5 L702.5,631.5 L703.5,633.5 L704.5,635.5 L705.5,637.4 L706.5,639.2 L707.5,640.9 L708.5,642.7 L709.5,644.3 L710.5,645.9 L711.5,647.5 L712.5,649.0 L713.5,650.5 L714.5,651.9 L715.5,653.3 L716.5,654.6 L717.5,655.9 L718.5,657.2 L719.5,658.4 L720.5,659.6 L721.5,660.7 L722.5,661.8 L723.5,662.9 L724.5,663.9 L725.5,664.9 L726.5,665.8 L727.5,666.8 L728.5,667.7 L729.5,668.5 L730.5,669.4 L731.5,670.2 L732.5,671.0 L733.5,671.7 L734.5,672.5 L735.5,673.2 L736.5,673.9 L737.5,674.5 L738.5,675.2 L739.5,675.8 L740.5,676.4 L741.5,677.0 L742.5,677.5 L743.5,678.1 L744.5,678.6 L745.5,679.1 L746.5,679.6 L747.5,680.1 L748.5,680.5 L749.5,681.0 L750.5,681.4 L751.5,681.8 L752.5,682.2 L753.5,682.6 L754.5,682.9 L755.5,683.3 L756.5,683.6 L757.5,684.0 L758.5,684.3 L759.5,684.6 L760.5,684.9 L761.5,685.2 L762.5,685.4 L763.5,685.7 L764.5,686.0 L765.5,686.2 L766.5,686.5 L767.5,686.7 L768.5,686.9 L769.5,687.1 L770.5,687.3 L771.5,687.5 L772.5,687.7 L773.5,687.9 L774.5,688.1 L775.5,688.3 L776.5,688.4 L777.5,688.6 L778.5,688.8 L779.5,688.9 L780.5,689.0 L781.5,689.2 L782.5,689.3 L783.5,689.5 L784.5,689.6 L785.5,689.7 L786.5,689.8 L787.5,689.9 L788.5,690.0 L789.5,690.1 L790.5,690.2 L791.5,690.3 L792.5,690.4 L793.5,690.5 L794.5,690.6 L795.5,690.7 L796.5,690.8 L797.5,690.9 L798.5,690.9 L799.5,691.0 L800.5,691.1 L801.5,691.2 L802.5,691.2 L803.5,691.3 L804.5,691.3 L805.5,691.4 L806.5,691.5 L807.5,691.5 L808.5,691.6 L809.5,691.6 L810.5,691.7 L811.5,691.7 L812.5,691.8 L813.5,691.8 L814.5,691.8 L815.5,691.9 L816.5,691.9 L817.5,692.0 L818.5,692.0 L819.5,692.0 L820.5,692.1 L821.5,692.1 L822.5,692.1 L823.5,692.2 L824.5,692.2 L825.5,692.2 L826.5,692.3 L827.5,692.3 L828.5,692.3 L829.5,692.3 L830.5,692.4 L831.5,692.4 L832.5,692.4 L833.5,692.4 L834.5,692.4 L835.5,692.5 L836.5,692.5 L837.5,692.5 L838.5,692.5 L839.5,692.5 L840.5,692.6 L841.5,692.6 L842.5,692.6 L843.5,692.6 L844.5,692.6 L845.5,692.6 L846.5,692.6 L847.5,692.7 L848.5,692.7 L849.5,692.7 L850.5,692.7 L851.5,692.7 L852.5,692.7 L853.5,692.7 L854.5,692.7 L855.5,692.7 L856.5,692.7 L857.5,692.8 L858.5,692.8 L859.5,692.8 L860.5,692.8 L861.5,692.8 L862.5,692.8 L863.5,692.8 L864.5,692.8 L865.5,692.8 L866.5,692.8 L867.5,692.8 L868.5,692.8 L869.5,692.8 L870.5,692.8 L871.5,692.9 L872.5,692.9 L873.5,692.9 L874.5,692.9 L875.5,692.9 L876.5,692.9 L877.5,692.9 L878.5,692.9 L879.5,692.9 L880.5,692.9 L881.5,692.9 L882.5,692.9 L883.5,692.9 L884.5,692.9 L885.5,692.9 L886.5,692.9 L887.5,692.9 L888.5,692.9 L889.5,692.9 L890.5,692.9 L891.5,692.9 L892.5,692.9 L893.5,692.9 L894.5,692.9 L895.5,692.9 L896.5,692.9 L897.5,692.9 L898.5,692.9 L899.5,692.9 L900.5,692.9 L901.5,693.0 L902.5,693.0 L903.5,693.0 L904.5,693.0 L905.5,693.0 L906.5,693.0 L907.5,693.0 L908.5,693.0 L909.5,693.0 L910.5,693.0 L911.5,693.0 L912.5,693.0 L913.5,693.0 L914.5,693.0 L915.5,693.0 L916.5,693.0 L917.5,693.0 L918.5,693.0 L919.5,693.0 L920.5,693.0 L921.5,693.0 L922.5,693.0 L923.5,693.0 L924.5,693.0 L925.5,693.0 L926.5,693.0 L927.5,693.0 L928.5,693.0 L929.5,693.0 L930.5,693.0 L931.5,693.0 L932.5,693.0 L933.5,693.0 L934.5,693.0 L935.5,693.0 L936.5,693.0 L937.5,693.0 L938.5,693.0 L939.5,693.0 L940.5,693.0 L941.5,693.0 L942.5,693.0 L943.5,693.0 L944.5,693.0 L945.5,693.0 L946.5,693.0 L947.5,693.0 L948.5,693.0 L949.5,693.0 L950.5,693.0 L951.5,693.0 L952.5,693.0 L953.5,693.0 L954.5,693.0" fill="none" stroke="#000" stroke-width="3.6" stroke-linejoin="round"/><path d="M137.5,687.4 L137.6,687.4 L138.6,687.3 L139.6,687.2 L140.6,687.1 L141.6,687.0 L142.6,686.9 L143.6,686.8 L144.6,686.7 L145.6,686.6 L146.6,686.5 L147.6,686.4 L148.6,686.3 L149.6,686.2 L150.6,686.1 L151.6,686.0 L152.6,685.9 L153.6,685.8 L154.4,685.7 M168.4,683.9 L168.4,683.9 L169.4,683.7 L170.4,683.6 L171.4,683.4 L172.4,683.3 L173.4,683.1 L174.4,683.0 L175.4,682.8 L176.4,682.7 L177.4,682.5 L178.4,682.3 L179.4,682.2 L180.4,682.0 L181.4,681.8 L182.4,681.6 L183.4,681.5 L184.4,681.3 L185.2,681.1 M199.0,678.3 L199.1,678.3 L200.1,678.0 L201.1,677.8 L202.1,677.6 L203.1,677.3 L204.1,677.1 L205.1,676.8 L206.1,676.6 L207.1,676.3 L208.1,676.1 L209.1,675.8 L210.1,675.5 L211.1,675.3 L212.1,675.0 L213.1,674.7 L214.1,674.4 L215.1,674.1 L215.7,673.9 M229.3,669.5 L229.3,669.5 L230.3,669.2 L231.3,668.8 L232.3,668.4 L233.3,668.0 L234.3,667.7 L235.3,667.3 L236.3,666.9 L237.3,666.5 L238.3,666.1 L239.3,665.7 L240.3,665.2 L241.3,664.8 L242.3,664.4 L243.3,663.9 L244.3,663.5 L245.3,663.0 L245.4,663.0 M258.5,656.5 L258.5,656.4 L259.5,655.9 L260.5,655.3 L261.5,654.8 L262.5,654.2 L263.5,653.6 L264.5,653.0 L265.5,652.4 L266.5,651.8 L267.5,651.2 L268.5,650.6 L269.5,649.9 L270.5,649.3 L271.5,648.6 L272.5,648.0 L273.5,647.3 L273.8,647.1 M285.9,638.2 L286.0,638.1 L287.0,637.3 L288.0,636.5 L289.0,635.7 L290.0,634.8 L291.0,634.0 L292.0,633.1 L293.0,632.3 L294.0,631.4 L295.0,630.5 L296.0,629.6 L297.0,628.7 L298.0,627.7 L299.0,626.8 L299.9,625.9 M310.9,614.7 L310.9,614.7 L311.9,613.6 L312.9,612.5 L313.9,611.3 L314.9,610.2 L315.9,609.0 L316.9,607.9 L317.9,606.7 L318.9,605.5 L319.9,604.3 L320.9,603.0 L321.9,601.8 L322.9,600.5 L323.2,600.2 M332.4,587.9 L332.5,587.8 L333.5,586.4 L334.5,584.9 L335.5,583.5 L336.5,582.0 L337.5,580.6 L338.5,579.1 L339.5,577.6 L340.5,576.0 L341.5,574.5 L342.5,573.0 L342.8,572.4 M350.8,559.4 L350.9,559.3 L351.9,557.6 L352.9,555.9 L353.9,554.2 L354.9,552.4 L355.9,550.7 L356.9,548.9 L357.9,547.1 L358.9,545.3 L359.9,543.5 L359.9,543.4 M367.0,530.0 L367.1,529.8 L368.1,527.9 L369.1,525.9 L370.1,523.9 L371.1,521.9 L372.1,519.9 L373.1,517.9 L374.1,515.8 L375.1,513.8 L375.2,513.6 M381.6,500.0 L381.7,499.8 L382.7,497.6 L383.7,495.4 L384.7,493.2 L385.7,491.0 L386.7,488.8 L387.7,486.5 L388.7,484.3 L389.1,483.3 M395.1,469.5 L395.2,469.3 L396.2,467.0 L397.2,464.6 L398.2,462.2 L399.2,459.8 L400.2,457.4 L401.2,455.0 L402.2,452.7 M407.8,438.9 L407.9,438.7 L408.9,436.2 L409.9,433.7 L410.9,431.2 L411.9,428.7 L412.9,426.2 L413.9,423.6 L414.6,422.0 M420.0,408.0 L420.1,407.9 L421.1,405.3 L422.1,402.7 L423.1,400.1 L424.1,397.6 L425.1,395.0 L426.1,392.4 L426.6,391.1 M432.0,377.1 L432.0,377.0 L433.0,374.4 L434.0,371.8 L435.0,369.2 L436.0,366.6 L437.0,364.0 L438.0,361.4 L438.5,360.2 M443.8,346.2 L443.9,346.0 L444.9,343.4 L445.9,340.8 L446.9,338.2 L447.9,335.6 L448.9,333.0 L449.9,330.4 L450.4,329.2 M455.8,315.3 L455.8,315.3 L456.8,312.7 L457.8,310.2 L458.8,307.6 L459.8,305.1 L460.8,302.6 L461.8,300.1 L462.5,298.4 M468.1,284.5 L468.1,284.4 L469.1,282.0 L470.1,279.5 L471.1,277.1 L472.1,274.7 L473.1,272.2 L474.1,269.8 L475.0,267.6 M480.9,253.8 L480.9,253.8 L481.9,251.5 L482.9,249.2 L483.9,246.9 L484.9,244.6 L485.9,242.4 L486.9,240.1 L487.9,237.9 L488.2,237.1 M494.5,223.4 L494.6,223.3 L495.6,221.1 L496.6,219.0 L497.6,216.9 L498.6,214.9 L499.6,212.8 L500.6,210.7 L501.6,208.7 L502.5,207.0 M509.3,193.5 L509.4,193.3 L510.4,191.4 L511.4,189.6 L512.4,187.7 L513.4,185.8 L514.4,184.0 L515.4,182.2 L516.4,180.4 L517.4,178.6 L518.1,177.3 M525.8,164.2 L525.8,164.2 L526.8,162.5 L527.8,160.9 L528.8,159.3 L529.8,157.7 L530.8,156.1 L531.8,154.6 L532.8,153.0 L533.8,151.5 L534.8,150.0 L535.8,148.5 M544.6,135.9 L544.7,135.8 L545.7,134.5 L546.7,133.1 L547.7,131.8 L548.7,130.5 L549.7,129.2 L550.7,128.0 L551.7,126.7 L552.7,125.5 L553.7,124.2 L554.7,123.0 L555.7,121.8 L556.3,121.1 M566.7,109.5 L566.8,109.4 L567.8,108.3 L568.8,107.3 L569.8,106.3 L570.8,105.3 L571.8,104.3 L572.8,103.3 L573.8,102.3 L574.8,101.4 L575.8,100.4 L576.8,99.5 L577.8,98.6 L578.8,97.7 L579.8,96.8 L580.3,96.3 M592.1,86.7 L592.2,86.6 L593.2,85.9 L594.2,85.1 L595.2,84.4 L596.2,83.7 L597.2,83.0 L598.2,82.3 L599.2,81.6 L600.2,80.9 L601.2,80.2 L602.2,79.6 L603.2,78.9 L604.2,78.3 L605.2,77.6 L606.2,77.0 L607.1,76.4 M619.9,69.2 L619.9,69.2 L620.9,68.7 L621.9,68.2 L622.9,67.7 L623.9,67.2 L624.9,66.7 L625.9,66.3 L626.9,65.8 L627.9,65.3 L628.9,64.9 L629.9,64.4 L630.9,64.0 L631.9,63.5 L632.9,63.1 L633.9,62.7 L634.9,62.3 L635.9,61.9 M649.3,56.9 L649.3,56.9 L650.3,56.5 L651.3,56.2 L652.3,55.9 L653.3,55.6 L654.3,55.3 L655.3,55.0 L656.3,54.6 L657.3,54.3 L658.3,54.1 L659.3,53.8 L660.3,53.5 L661.3,53.2 L662.3,52.9 L663.3,52.6 L664.3,52.4 L665.3,52.1 L665.8,52.0 M679.6,48.7 L679.6,48.7 L680.6,48.5 L681.6,48.3 L682.6,48.1 L683.6,47.9 L684.6,47.7 L685.6,47.5 L686.6,47.3 L687.6,47.1 L688.6,46.9 L689.6,46.7 L690.6,46.5 L691.6,46.4 L692.6,46.2 L693.6,46.0 L694.6,45.8 L695.6,45.7 L696.4,45.5 M710.3,43.5 L710.4,43.5 L711.4,43.3 L712.4,43.2 L713.4,43.1 L714.4,43.0 L715.4,42.8 L716.4,42.7 L717.4,42.6 L718.4,42.5 L719.4,42.4 L720.4,42.2 L721.4,42.1 L722.4,42.0 L723.4,41.9 L724.4,41.8 L725.4,41.7 L726.4,41.6 L727.2,41.5 M741.2,40.2 L741.2,40.2 L742.2,40.1 L743.2,40.1 L744.2,40.0 L745.2,39.9 L746.2,39.8 L747.2,39.8 L748.2,39.7 L749.2,39.6 L750.2,39.5 L751.2,39.5 L752.2,39.4 L753.2,39.3 L754.2,39.3 L755.2,39.2 L756.2,39.1 L757.2,39.1 L758.2,39.0 M772.2,38.2 L772.2,38.2 L773.2,38.2 L774.2,38.1 L775.2,38.1 L776.2,38.0 L777.2,38.0 L778.2,37.9 L779.2,37.9 L780.2,37.8 L781.2,37.8 L782.2,37.7 L783.2,37.7 L784.2,37.6 L785.2,37.6 L786.2,37.6 L787.2,37.5 L788.2,37.5 L789.1,37.4 M803.1,37.0 L803.2,37.0 L804.2,36.9 L805.2,36.9 L806.2,36.9 L807.2,36.8 L808.2,36.8 L809.2,36.8 L810.2,36.8 L811.2,36.7 L812.2,36.7 L813.2,36.7 L814.2,36.6 L815.2,36.6 L816.2,36.6 L817.2,36.6 L818.2,36.5 L819.2,36.5 L820.1,36.5 M834.1,36.2 L834.2,36.2 L835.2,36.2 L836.2,36.2 L837.2,36.1 L838.2,36.1 L839.2,36.1 L840.2,36.1 L841.2,36.1 L842.2,36.1 L843.2,36.0 L844.2,36.0 L845.2,36.0 L846.2,36.0 L847.2,36.0 L848.2,36.0 L849.2,35.9 L850.2,35.9 L851.1,35.9 M865.1,35.7 L865.2,35.7 L866.2,35.7 L867.2,35.7 L868.2,35.7 L869.2,35.7 L870.2,35.7 L871.2,35.7 L872.2,35.7 L873.2,35.6 L874.2,35.6 L875.2,35.6 L876.2,35.6 L877.2,35.6 L878.2,35.6 L879.2,35.6 L880.2,35.6 L881.2,35.6 L882.1,35.6 M896.1,35.4 L896.2,35.4 L897.2,35.4 L898.2,35.4 L899.2,35.4 L900.2,35.4 L901.2,35.4 L902.2,35.4 L903.2,35.4 L904.2,35.4 L905.2,35.4 L906.2,35.4 L907.2,35.4 L908.2,35.4 L909.2,35.4 L910.2,35.4 L911.2,35.4 L912.2,35.3 L913.1,35.3 M927.1,35.3 L927.2,35.3 L928.2,35.3 L929.2,35.3 L930.2,35.3 L931.2,35.3 L932.2,35.3 L933.2,35.2 L934.2,35.2 L935.2,35.2 L936.2,35.2 L937.2,35.2 L938.2,35.2 L939.2,35.2 L940.2,35.2 L941.2,35.2 L942.2,35.2 L943.2,35.2 L944.1,35.2" fill="none" stroke="#000" stroke-width="3.6"/><path d="M137.5,692.9 L137.6,692.9 L138.6,692.9 L139.6,692.8 L140.6,692.8 L141.6,692.8 L142.6,692.8 L143.6,692.8 L144.6,692.8 L145.6,692.8 L146.6,692.8 L147.6,692.8 L148.6,692.8 L149.6,692.8 L150.6,692.8 L151.6,692.8 L152.6,692.8 L153.6,692.8 L154.5,692.8 M168.5,692.7 L168.5,692.7 L169.5,692.7 L170.5,692.6 L171.5,692.6 L172.5,692.6 L173.5,692.6 L174.5,692.6 L175.5,692.6 L176.5,692.6 L177.5,692.6 L178.5,692.6 L179.5,692.5 L180.5,692.5 L181.5,692.5 L182.5,692.5 L183.5,692.5 L184.5,692.5 L185.5,692.5 M199.5,692.2 L199.5,692.2 L200.5,692.2 L201.5,692.2 L202.5,692.1 L203.5,692.1 L204.5,692.1 L205.5,692.1 L206.5,692.0 L207.5,692.0 L208.5,692.0 L209.5,691.9 L210.5,691.9 L211.5,691.9 L212.5,691.8 L213.5,691.8 L214.5,691.8 L215.5,691.7 L216.5,691.7 M230.5,691.1 L230.5,691.1 L231.5,691.1 L232.5,691.0 L233.5,690.9 L234.5,690.9 L235.5,690.8 L236.5,690.8 L237.5,690.7 L238.5,690.6 L239.5,690.6 L240.5,690.5 L241.5,690.4 L242.5,690.4 L243.5,690.3 L244.5,690.2 L245.5,690.1 L246.5,690.0 L247.5,690.0 M261.4,688.5 L261.5,688.5 L262.5,688.4 L263.5,688.3 L264.5,688.1 L265.5,688.0 L266.5,687.9 L267.5,687.7 L268.5,687.6 L269.5,687.4 L270.5,687.3 L271.5,687.1 L272.5,687.0 L273.5,686.8 L274.5,686.6 L275.5,686.4 L276.5,686.3 L277.5,686.1 L278.3,685.9 M292.0,682.7 L292.1,682.6 L293.1,682.4 L294.1,682.1 L295.1,681.8 L296.1,681.5 L297.1,681.1 L298.1,680.8 L299.1,680.5 L300.1,680.1 L301.1,679.8 L302.1,679.4 L303.1,679.0 L304.1,678.6 L305.1,678.2 L306.1,677.8 L307.1,677.4 L308.1,677.0 L308.4,676.9 M321.3,670.1 L321.4,670.1 L322.4,669.5 L323.4,668.8 L324.4,668.2 L325.4,667.5 L326.4,666.8 L327.4,666.1 L328.4,665.4 L329.4,664.6 L330.4,663.9 L331.4,663.1 L332.4,662.3 L333.4,661.5 L334.4,660.6 L335.4,659.8 L336.0,659.2 M346.9,648.0 L347.0,648.0 L348.0,646.8 L349.0,645.6 L350.0,644.3 L351.0,643.1 L352.0,641.8 L353.0,640.5 L354.0,639.1 L355.0,637.7 L356.0,636.3 L357.0,634.8 L358.0,633.3 L358.2,633.0 M366.1,620.0 L366.1,620.0 L367.1,618.1 L368.1,616.3 L369.1,614.4 L370.1,612.4 L371.1,610.4 L372.1,608.4 L373.1,606.3 L374.1,604.2 L374.4,603.6 M380.4,589.9 L380.5,589.7 L381.5,587.2 L382.5,584.7 L383.5,582.2 L384.5,579.6 L385.5,577.0 L386.5,574.3 L387.0,572.9 M392.0,558.9 L392.0,558.7 L393.0,555.7 L394.0,552.7 L395.0,549.6 L396.0,546.5 L397.0,543.3 L397.5,541.6 M401.8,527.4 L401.8,527.3 L402.8,523.8 L403.8,520.3 L404.8,516.7 L405.8,513.1 L406.7,510.0 M410.5,495.7 L410.5,495.6 L411.5,491.7 L412.5,487.8 L413.5,483.9 L414.5,479.9 L414.9,478.2 M418.5,463.8 L418.5,463.6 L419.5,459.4 L420.5,455.2 L421.5,451.0 L422.5,446.7 L422.6,446.3 M425.9,431.8 L426.0,431.6 L427.0,427.2 L428.0,422.8 L429.0,418.3 L429.9,414.3 M433.1,399.8 L433.2,399.5 L434.2,395.0 L435.2,390.4 L436.2,385.9 L437.0,382.2 M440.2,367.8 L440.2,367.7 L441.2,363.1 L442.2,358.5 L443.2,354.0 L444.0,350.2 M447.2,335.7 L447.3,335.3 L448.3,330.8 L449.3,326.2 L450.3,321.7 L451.1,318.2 M454.3,303.7 L454.4,303.5 L455.4,299.1 L456.4,294.7 L457.4,290.3 L458.4,286.2 M461.7,271.7 L461.8,271.5 L462.8,267.3 L463.8,263.2 L464.8,259.0 L465.8,255.0 L466.0,254.2 M469.6,239.8 L469.6,239.8 L470.6,235.9 L471.6,232.0 L472.6,228.2 L473.6,224.4 L474.1,222.4 M478.1,208.1 L478.1,208.0 L479.1,204.5 L480.1,201.1 L481.1,197.6 L482.1,194.3 L483.1,190.9 L483.2,190.7 M487.6,176.5 L487.7,176.2 L488.7,173.2 L489.7,170.2 L490.7,167.2 L491.7,164.3 L492.7,161.4 L493.4,159.4 M498.7,145.4 L498.7,145.3 L499.7,142.8 L500.7,140.3 L501.7,137.8 L502.7,135.5 L503.7,133.1 L504.7,130.8 L505.7,128.6 M512.2,115.0 L512.3,114.8 L513.3,112.9 L514.3,111.0 L515.3,109.1 L516.3,107.3 L517.3,105.6 L518.3,103.8 L519.3,102.1 L520.3,100.5 L521.3,98.9 M530.0,86.3 L530.0,86.2 L531.0,84.9 L532.0,83.7 L533.0,82.4 L534.0,81.2 L535.0,80.0 L536.0,78.9 L537.0,77.8 L538.0,76.7 L539.0,75.6 L540.0,74.5 L541.0,73.5 L542.0,72.5 L542.5,72.0 M554.2,62.2 L554.2,62.2 L555.2,61.5 L556.2,60.8 L557.2,60.1 L558.2,59.4 L559.2,58.8 L560.2,58.2 L561.2,57.5 L562.2,56.9 L563.2,56.4 L564.2,55.8 L565.2,55.2 L566.2,54.7 L567.2,54.2 L568.2,53.7 L569.2,53.2 L569.6,53.0 M582.9,47.5 L582.9,47.5 L583.9,47.2 L584.9,46.9 L585.9,46.5 L586.9,46.2 L587.9,45.9 L588.9,45.6 L589.9,45.4 L590.9,45.1 L591.9,44.8 L592.9,44.5 L593.9,44.3 L594.9,44.0 L595.9,43.8 L596.9,43.5 L597.9,43.3 L598.9,43.1 L599.5,43.0 M613.3,40.4 L613.4,40.4 L614.4,40.3 L615.4,40.1 L616.4,40.0 L617.4,39.9 L618.4,39.7 L619.4,39.6 L620.4,39.5 L621.4,39.4 L622.4,39.2 L623.4,39.1 L624.4,39.0 L625.4,38.9 L626.4,38.8 L627.4,38.7 L628.4,38.6 L629.4,38.5 L630.2,38.4 M644.2,37.3 L644.3,37.3 L645.3,37.2 L646.3,37.2 L647.3,37.1 L648.3,37.1 L649.3,37.0 L650.3,37.0 L651.3,36.9 L652.3,36.9 L653.3,36.8 L654.3,36.8 L655.3,36.7 L656.3,36.7 L657.3,36.6 L658.3,36.6 L659.3,36.5 L660.3,36.5 L661.2,36.4 M675.2,36.0 L675.2,36.0 L676.2,36.0 L677.2,35.9 L678.2,35.9 L679.2,35.9 L680.2,35.9 L681.2,35.8 L682.2,35.8 L683.2,35.8 L684.2,35.8 L685.2,35.7 L686.2,35.7 L687.2,35.7 L688.2,35.7 L689.2,35.7 L690.2,35.6 L691.2,35.6 L692.2,35.6 M706.2,35.4 L706.2,35.4 L707.2,35.4 L708.2,35.4 L709.2,35.4 L710.2,35.4 L711.2,35.4 L712.2,35.4 L713.2,35.3 L714.2,35.3 L715.2,35.3 L716.2,35.3 L717.2,35.3 L718.2,35.3 L719.2,35.3 L720.2,35.3 L721.2,35.3 L722.2,35.3 L723.2,35.3 M737.2,35.2 L737.2,35.2 L738.2,35.2 L739.2,35.2 L740.2,35.2 L741.2,35.2 L742.2,35.2 L743.2,35.1 L744.2,35.1 L745.2,35.1 L746.2,35.1 L747.2,35.1 L748.2,35.1 L749.2,35.1 L750.2,35.1 L751.2,35.1 L752.2,35.1 L753.2,35.1 L754.2,35.1 M768.2,35.1 L768.2,35.1 L769.2,35.1 L770.2,35.1 L771.2,35.1 L772.2,35.1 L773.2,35.1 L774.2,35.1 L775.2,35.1 L776.2,35.1 L777.2,35.1 L778.2,35.1 L779.2,35.1 L780.2,35.1 L781.2,35.1 L782.2,35.1 L783.2,35.0 L784.2,35.0 L785.2,35.0 M799.2,35.0 L799.2,35.0 L800.2,35.0 L801.2,35.0 L802.2,35.0 L803.2,35.0 L804.2,35.0 L805.2,35.0 L806.2,35.0 L807.2,35.0 L808.2,35.0 L809.2,35.0 L810.2,35.0 L811.2,35.0 L812.2,35.0 L813.2,35.0 L814.2,35.0 L815.2,35.0 L816.2,35.0 M830.2,35.0 L830.2,35.0 L831.2,35.0 L832.2,35.0 L833.2,35.0 L834.2,35.0 L835.2,35.0 L836.2,35.0 L837.2,35.0 L838.2,35.0 L839.2,35.0 L840.2,35.0 L841.2,35.0 L842.2,35.0 L843.2,35.0 L844.2,35.0 L845.2,35.0 L846.2,35.0 L847.2,35.0 M861.2,35.0 L861.2,35.0 L862.2,35.0 L863.2,35.0 L864.2,35.0 L865.2,35.0 L866.2,35.0 L867.2,35.0 L868.2,35.0 L869.2,35.0 L870.2,35.0 L871.2,35.0 L872.2,35.0 L873.2,35.0 L874.2,35.0 L875.2,35.0 L876.2,35.0 L877.2,35.0 L878.2,35.0 M892.2,35.0 L892.2,35.0 L893.2,35.0 L894.2,35.0 L895.2,35.0 L896.2,35.0 L897.2,35.0 L898.2,35.0 L899.2,35.0 L900.2,35.0 L901.2,35.0 L902.2,35.0 L903.2,35.0 L904.2,35.0 L905.2,35.0 L906.2,35.0 L907.2,35.0 L908.2,35.0 L909.2,35.0 M923.2,35.0 L923.2,35.0 L924.2,35.0 L925.2,35.0 L926.2,35.0 L927.2,35.0 L928.2,35.0 L929.2,35.0 L930.2,35.0 L931.2,35.0 L932.2,35.0 L933.2,35.0 L934.2,35.0 L935.2,35.0 L936.2,35.0 L937.2,35.0 L938.2,35.0 L939.2,35.0 L940.2,35.0 M954.2,35.0 L954.2,35.0 L954.5,35.0" fill="none" stroke="#000" stroke-width="3.6"/><path d="M137.5,690.8 L137.6,690.8 L138.6,690.8 L139.6,690.7 L140.6,690.7 L141.6,690.7 L142.6,690.6 L143.6,690.6 L144.6,690.6 L145.6,690.5 L146.6,690.5 L147.6,690.4 L148.6,690.4 L149.6,690.3 L150.6,690.3 L151.6,690.2 L152.6,690.2 L153.6,690.2 L154.5,690.1 M168.5,689.4 L168.5,689.4 L169.5,689.3 L170.5,689.2 L171.5,689.2 L172.5,689.1 L173.5,689.0 L174.5,689.0 L175.5,688.9 L176.5,688.8 L177.5,688.8 L178.5,688.7 L179.5,688.6 L180.5,688.6 L181.5,688.5 L182.5,688.4 L183.5,688.3 L184.5,688.3 L185.5,688.2 M199.4,686.9 L199.5,686.9 L200.5,686.8 L201.5,686.7 L202.5,686.6 L203.5,686.5 L204.5,686.4 L205.5,686.3 L206.5,686.2 L207.5,686.1 L208.5,685.9 L209.5,685.8 L210.5,685.7 L211.5,685.6 L212.5,685.5 L213.5,685.3 L214.5,685.2 L215.5,685.1 L216.3,685.0 M230.2,682.9 L230.3,682.9 L231.3,682.7 L232.3,682.6 L233.3,682.4 L234.3,682.2 L235.3,682.0 L236.3,681.9 L237.3,681.7 L238.3,681.5 L239.3,681.3 L240.3,681.1 L241.3,680.9 L242.3,680.7 L243.3,680.5 L244.3,680.3 L245.3,680.1 L246.3,679.9 L247.1,679.7 M260.8,676.4 L260.9,676.4 L261.9,676.1 L262.9,675.8 L263.9,675.5 L264.9,675.2 L265.9,675.0 L266.9,674.7 L267.9,674.4 L268.9,674.1 L269.9,673.7 L270.9,673.4 L271.9,673.1 L272.9,672.8 L273.9,672.5 L274.9,672.1 L275.9,671.8 L276.9,671.4 L277.3,671.3 M290.7,666.1 L290.7,666.1 L291.7,665.7 L292.7,665.2 L293.7,664.8 L294.7,664.3 L295.7,663.9 L296.7,663.4 L297.7,662.9 L298.7,662.4 L299.7,661.9 L300.7,661.4 L301.7,660.9 L302.7,660.4 L303.7,659.9 L304.7,659.4 L305.7,658.8 L306.6,658.4 M319.2,650.8 L319.3,650.7 L320.3,650.0 L321.3,649.4 L322.3,648.7 L323.3,648.0 L324.3,647.3 L325.3,646.6 L326.3,645.9 L327.3,645.1 L328.3,644.4 L329.3,643.6 L330.3,642.9 L331.3,642.1 L332.3,641.3 L333.3,640.5 L334.0,640.0 M345.5,629.8 L345.5,629.8 L346.5,628.8 L347.5,627.9 L348.5,626.9 L349.5,625.9 L350.5,624.9 L351.5,623.8 L352.5,622.8 L353.5,621.7 L354.5,620.7 L355.5,619.6 L356.5,618.5 L357.5,617.4 L358.5,616.3 L358.7,616.1 M368.6,604.1 L368.7,604.0 L369.7,602.7 L370.7,601.4 L371.7,600.1 L372.7,598.7 L373.7,597.4 L374.7,596.0 L375.7,594.6 L376.7,593.2 L377.7,591.8 L378.7,590.4 L379.7,589.0 M388.0,576.1 L388.1,576.0 L389.1,574.4 L390.1,572.8 L391.1,571.2 L392.1,569.5 L393.1,567.8 L394.1,566.1 L395.1,564.4 L396.1,562.7 L397.1,560.9 L397.5,560.2 M404.8,546.9 L404.8,546.8 L405.8,544.9 L406.8,543.0 L407.8,541.1 L408.8,539.1 L409.8,537.1 L410.8,535.2 L411.8,533.1 L412.8,531.1 L413.1,530.6 M419.6,517.0 L419.6,516.9 L420.6,514.7 L421.6,512.6 L422.6,510.4 L423.6,508.2 L424.6,505.9 L425.6,503.7 L426.6,501.4 L427.1,500.3 M433.0,486.5 L433.1,486.4 L434.1,484.0 L435.1,481.7 L436.1,479.3 L437.1,476.8 L438.1,474.4 L439.1,472.0 L440.0,469.7 M445.6,455.8 L445.6,455.8 L446.6,453.3 L447.6,450.7 L448.6,448.2 L449.6,445.6 L450.6,443.0 L451.6,440.4 L452.2,438.9 M457.5,424.9 L457.6,424.7 L458.6,422.1 L459.6,419.4 L460.6,416.7 L461.6,414.1 L462.6,411.4 L463.6,408.7 L463.9,407.9 M469.1,393.9 L469.1,393.8 L470.1,391.1 L471.1,388.4 L472.1,385.6 L473.1,382.9 L474.1,380.2 L475.1,377.4 L475.3,376.8 M480.4,362.8 L480.5,362.6 L481.5,359.9 L482.5,357.1 L483.5,354.4 L484.5,351.7 L485.5,348.9 L486.5,346.2 L486.7,345.8 M491.8,331.7 L491.9,331.5 L492.9,328.8 L493.9,326.1 L494.9,323.4 L495.9,320.7 L496.9,318.0 L497.9,315.3 L498.1,314.7 M503.4,300.7 L503.4,300.6 L504.4,298.0 L505.4,295.4 L506.4,292.8 L507.4,290.2 L508.4,287.6 L509.4,285.0 L509.9,283.7 M515.3,269.8 L515.4,269.7 L516.4,267.2 L517.4,264.7 L518.4,262.2 L519.4,259.7 L520.4,257.2 L521.4,254.8 L522.2,252.9 M528.0,239.1 L528.0,239.0 L529.0,236.7 L530.0,234.3 L531.0,232.0 L532.0,229.7 L533.0,227.5 L534.0,225.2 L535.0,223.0 L535.3,222.4 M541.5,208.7 L541.6,208.5 L542.6,206.4 L543.6,204.3 L544.6,202.2 L545.6,200.2 L546.6,198.1 L547.6,196.1 L548.6,194.0 L549.5,192.2 M556.5,178.8 L556.5,178.7 L557.5,176.8 L558.5,175.0 L559.5,173.2 L560.5,171.4 L561.5,169.6 L562.5,167.8 L563.5,166.0 L564.5,164.3 L565.4,162.7 M573.3,149.7 L573.4,149.6 L574.4,148.0 L575.4,146.5 L576.4,144.9 L577.4,143.4 L578.4,141.9 L579.4,140.4 L580.4,139.0 L581.4,137.5 L582.4,136.1 L583.4,134.6 L583.7,134.2 M593.0,121.8 L593.1,121.7 L594.1,120.5 L595.1,119.3 L596.1,118.0 L597.1,116.8 L598.1,115.7 L599.1,114.5 L600.1,113.3 L601.1,112.2 L602.1,111.1 L603.1,109.9 L604.1,108.8 L605.1,107.8 L605.4,107.5 M616.4,96.4 L616.5,96.3 L617.5,95.4 L618.5,94.5 L619.5,93.6 L620.5,92.7 L621.5,91.9 L622.5,91.0 L623.5,90.1 L624.5,89.3 L625.5,88.5 L626.5,87.7 L627.5,86.9 L628.5,86.1 L629.5,85.3 L630.5,84.5 L630.6,84.4 M642.9,75.9 L643.0,75.8 L644.0,75.2 L645.0,74.5 L646.0,73.9 L647.0,73.3 L648.0,72.7 L649.0,72.1 L650.0,71.6 L651.0,71.0 L652.0,70.4 L653.0,69.9 L654.0,69.3 L655.0,68.8 L656.0,68.2 L657.0,67.7 L658.0,67.2 L658.4,67.0 M671.6,61.0 L671.6,60.9 L672.6,60.5 L673.6,60.1 L674.6,59.7 L675.6,59.3 L676.6,58.9 L677.6,58.6 L678.6,58.2 L679.6,57.8 L680.6,57.4 L681.6,57.1 L682.6,56.7 L683.6,56.4 L684.6,56.0 L685.6,55.7 L686.6,55.4 L687.6,55.1 L687.9,55.0 M701.5,51.0 L701.6,51.0 L702.6,50.7 L703.6,50.5 L704.6,50.2 L705.6,50.0 L706.6,49.7 L707.6,49.5 L708.6,49.3 L709.6,49.0 L710.6,48.8 L711.6,48.6 L712.6,48.4 L713.6,48.1 L714.6,47.9 L715.6,47.7 L716.6,47.5 L717.6,47.3 L718.3,47.2 M732.1,44.7 L732.2,44.7 L733.2,44.5 L734.2,44.4 L735.2,44.2 L736.2,44.1 L737.2,43.9 L738.2,43.8 L739.2,43.6 L740.2,43.5 L741.2,43.4 L742.2,43.2 L743.2,43.1 L744.2,43.0 L745.2,42.8 L746.2,42.7 L747.2,42.6 L748.2,42.4 L749.0,42.3 M763.0,40.8 L763.0,40.8 L764.0,40.7 L765.0,40.6 L766.0,40.6 L767.0,40.5 L768.0,40.4 L769.0,40.3 L770.0,40.2 L771.0,40.1 L772.0,40.0 L773.0,39.9 L774.0,39.9 L775.0,39.8 L776.0,39.7 L777.0,39.6 L778.0,39.6 L779.0,39.5 L779.9,39.4 M793.9,38.5 L794.0,38.5 L795.0,38.4 L796.0,38.4 L797.0,38.3 L798.0,38.3 L799.0,38.2 L800.0,38.2 L801.0,38.1 L802.0,38.1 L803.0,38.0 L804.0,38.0 L805.0,37.9 L806.0,37.9 L807.0,37.8 L808.0,37.8 L809.0,37.7 L810.0,37.7 L810.9,37.6 M824.9,37.1 L824.9,37.1 L825.9,37.1 L826.9,37.0 L827.9,37.0 L828.9,37.0 L829.9,36.9 L830.9,36.9 L831.9,36.9 L832.9,36.8 L833.9,36.8 L834.9,36.8 L835.9,36.7 L836.9,36.7 L837.9,36.7 L838.9,36.7 L839.9,36.6 L840.9,36.6 L841.9,36.6 M855.9,36.2 L855.9,36.2 L856.9,36.2 L857.9,36.2 L858.9,36.2 L859.9,36.2 L860.9,36.1 L861.9,36.1 L862.9,36.1 L863.9,36.1 L864.9,36.1 L865.9,36.1 L866.9,36.0 L867.9,36.0 L868.9,36.0 L869.9,36.0 L870.9,36.0 L871.9,36.0 L872.9,35.9 M886.9,35.7 L886.9,35.7 L887.9,35.7 L888.9,35.7 L889.9,35.7 L890.9,35.7 L891.9,35.7 L892.9,35.7 L893.9,35.7 L894.9,35.7 L895.9,35.6 L896.9,35.6 L897.9,35.6 L898.9,35.6 L899.9,35.6 L900.9,35.6 L901.9,35.6 L902.9,35.6 L903.9,35.6 M917.9,35.4 L917.9,35.4 L918.9,35.4 L919.9,35.4 L920.9,35.4 L921.9,35.4 L922.9,35.4 L923.9,35.4 L924.9,35.4 L925.9,35.4 L926.9,35.4 L927.9,35.4 L928.9,35.4 L929.9,35.4 L930.9,35.4 L931.9,35.4 L932.9,35.3 L933.9,35.3 L934.9,35.3 M948.9,35.3 L948.9,35.3 L949.9,35.3 L950.9,35.3 L951.9,35.3 L952.9,35.2 L953.9,35.2 L954.5,35.2" fill="none" stroke="#000" stroke-width="3.6"/><path d="M137.5,693.0 L137.6,693.0 L138.6,693.0 L139.6,693.0 L140.6,693.0 L141.6,693.0 L142.6,693.0 L143.6,693.0 L144.6,693.0 L145.6,693.0 L146.6,693.0 L147.6,693.0 L148.6,693.0 L149.6,693.0 L150.6,693.0 L151.6,693.0 L152.6,693.0 L153.6,693.0 L154.5,693.0 M168.5,693.0 L168.6,693.0 L169.6,693.0 L170.6,693.0 L171.6,693.0 L172.6,693.0 L173.6,693.0 L174.6,693.0 L175.6,693.0 L176.6,693.0 L177.6,693.0 L178.6,693.0 L179.6,693.0 L180.6,693.0 L181.6,693.0 L182.6,693.0 L183.6,693.0 L184.6,693.0 L185.5,693.0 M199.5,693.0 L199.6,693.0 L200.6,693.0 L201.6,693.0 L202.6,693.0 L203.6,693.0 L204.6,693.0 L205.6,693.0 L206.6,693.0 L207.6,693.0 L208.6,693.0 L209.6,693.0 L210.6,693.0 L211.6,693.0 L212.6,693.0 L213.6,693.0 L214.6,693.0 L215.6,693.0 L216.5,693.0 M230.5,693.0 L230.6,693.0 L231.6,693.0 L232.6,693.0 L233.6,693.0 L234.6,693.0 L235.6,693.0 L236.6,693.0 L237.6,693.0 L238.6,693.0 L239.6,693.0 L240.6,693.0 L241.6,693.0 L242.6,693.0 L243.6,693.0 L244.6,693.0 L245.6,693.0 L246.6,693.0 L247.5,693.0 M261.5,693.0 L261.5,693.0 L262.5,693.0 L263.5,693.0 L264.5,693.0 L265.5,693.0 L266.5,693.0 L267.5,693.0 L268.5,693.0 L269.5,693.0 L270.5,693.0 L271.5,693.0 L272.5,693.0 L273.5,693.0 L274.5,693.0 L275.5,693.0 L276.5,693.0 L277.5,693.0 L278.5,693.0 M292.5,693.0 L292.5,693.0 L293.5,693.0 L294.5,693.0 L295.5,693.0 L296.5,693.0 L297.5,693.0 L298.5,693.0 L299.5,693.0 L300.5,693.0 L301.5,693.0 L302.5,693.0 L303.5,693.0 L304.5,693.0 L305.5,693.0 L306.5,693.0 L307.5,693.0 L308.5,693.0 L309.5,693.0 M323.5,693.0 L323.5,693.0 L324.5,693.0 L325.5,693.0 L326.5,693.0 L327.5,693.0 L328.5,693.0 L329.5,693.0 L330.5,693.0 L331.5,693.0 L332.5,693.0 L333.5,693.0 L334.5,693.0 L335.5,693.0 L336.5,693.0 L337.5,693.0 L338.5,693.0 L339.5,693.0 L340.5,693.0 M354.5,693.0 L354.5,693.0 L355.5,693.0 L356.5,693.0 L357.5,693.0 L358.5,693.0 L359.5,693.0 L360.5,693.0 L361.5,693.0 L362.5,693.0 L363.5,693.0 L364.5,693.0 L365.5,692.9 L366.5,692.9 L367.5,692.9 L368.5,692.9 L369.5,692.9 L370.5,692.9 L371.5,692.9 M385.5,692.8 L385.5,692.8 L386.5,692.8 L387.5,692.8 L388.5,692.8 L389.5,692.8 L390.5,692.8 L391.5,692.7 L392.5,692.7 L393.5,692.7 L394.5,692.7 L395.5,692.7 L396.5,692.6 L397.5,692.6 L398.5,692.6 L399.5,692.6 L400.5,692.5 L401.5,692.5 L402.5,692.5 M416.5,691.8 L416.5,691.8 L417.5,691.7 L418.5,691.6 L419.5,691.5 L420.5,691.4 L421.5,691.3 L422.5,691.2 L423.5,691.1 L424.5,691.0 L425.5,690.8 L426.5,690.7 L427.5,690.6 L428.5,690.4 L429.5,690.2 L430.5,690.1 L431.5,689.9 L432.5,689.7 L433.4,689.5 M446.9,684.9 L446.9,684.9 L447.9,684.3 L448.9,683.8 L449.9,683.2 L450.9,682.6 L451.9,681.9 L452.9,681.2 L453.9,680.5 L454.9,679.7 L455.9,678.9 L456.9,678.0 L457.9,677.0 L458.9,676.0 L459.9,675.0 L460.9,673.8 L461.2,673.5 M469.6,660.7 L469.6,660.7 L470.6,658.7 L471.6,656.6 L472.6,654.4 L473.6,652.0 L474.6,649.6 L475.6,647.0 L476.6,644.2 L476.7,643.9 M481.1,629.7 L481.2,629.5 L482.2,625.9 L483.2,622.0 L484.2,617.9 L485.2,613.7 L485.5,612.2 M488.6,597.7 L488.6,597.6 L489.6,592.4 L490.6,587.0 L491.6,581.3 L491.8,580.1 M494.2,565.5 L494.2,565.4 L495.2,558.9 L496.2,552.1 L496.8,547.7 M498.8,533.1 L498.9,532.5 L499.9,524.8 L500.9,516.8 L501.1,515.3 M502.8,500.7 L502.9,500.2 L503.9,491.6 L504.9,482.9 M506.5,468.2 L506.6,467.3 L507.6,457.9 L508.4,450.4 M509.9,435.7 L510.0,434.8 L511.0,425.0 L511.7,417.9 M513.2,403.2 L513.2,402.9 L514.2,392.7 L514.9,385.4 M516.3,370.7 L516.4,370.2 L517.4,360.5 L518.3,352.9 M519.9,338.2 L520.0,337.4 L521.0,328.6 L521.9,320.4 M523.6,305.7 L523.7,305.1 L524.7,296.5 L525.7,288.0 L525.7,287.9 M527.5,273.3 L527.5,273.1 L528.5,264.9 L529.5,256.9 L529.7,255.5 M531.6,240.9 L531.6,240.5 L532.6,233.0 L533.6,225.6 L533.9,223.1 M536.0,208.5 L536.1,207.8 L537.1,201.0 L538.1,194.4 L538.7,190.7 M541.0,176.1 L541.1,175.6 L542.1,169.8 L543.1,164.1 L544.1,158.5 L544.1,158.4 M546.9,143.9 L547.0,143.6 L548.0,138.8 L549.0,134.1 L550.0,129.7 L550.8,126.3 M554.4,112.0 L554.5,111.6 L555.5,108.0 L556.5,104.6 L557.5,101.3 L558.5,98.1 L559.5,95.1 L559.7,94.7 M565.0,80.7 L565.1,80.5 L566.1,78.3 L567.1,76.1 L568.1,74.1 L569.1,72.2 L570.1,70.3 L571.1,68.5 L572.1,66.9 L573.1,65.3 L573.6,64.5 M583.5,52.6 L583.6,52.5 L584.6,51.6 L585.6,50.8 L586.6,49.9 L587.6,49.2 L588.6,48.4 L589.6,47.7 L590.6,47.1 L591.6,46.5 L592.6,45.9 L593.6,45.3 L594.6,44.8 L595.6,44.3 L596.6,43.8 L597.6,43.3 L598.6,42.9 L598.7,42.9 M612.3,38.8 L612.3,38.8 L613.3,38.6 L614.3,38.4 L615.3,38.2 L616.3,38.1 L617.3,37.9 L618.3,37.7 L619.3,37.6 L620.3,37.5 L621.3,37.3 L622.3,37.2 L623.3,37.1 L624.3,37.0 L625.3,36.9 L626.3,36.8 L627.3,36.7 L628.3,36.6 L629.2,36.5 M643.2,35.7 L643.2,35.7 L644.2,35.7 L645.2,35.6 L646.2,35.6 L647.2,35.6 L648.2,35.5 L649.2,35.5 L650.2,35.5 L651.2,35.5 L652.2,35.4 L653.2,35.4 L654.2,35.4 L655.2,35.4 L656.2,35.4 L657.2,35.3 L658.2,35.3 L659.2,35.3 L660.2,35.3 M674.1,35.1 L674.2,35.1 L675.2,35.1 L676.2,35.1 L677.2,35.1 L678.2,35.1 L679.2,35.1 L680.2,35.1 L681.2,35.1 L682.2,35.1 L683.2,35.1 L684.2,35.1 L685.2,35.1 L686.2,35.1 L687.2,35.1 L688.2,35.1 L689.2,35.1 L690.2,35.1 L691.1,35.1 M705.1,35.0 L705.2,35.0 L706.2,35.0 L707.2,35.0 L708.2,35.0 L709.2,35.0 L710.2,35.0 L711.2,35.0 L712.2,35.0 L713.2,35.0 L714.2,35.0 L715.2,35.0 L716.2,35.0 L717.2,35.0 L718.2,35.0 L719.2,35.0 L720.2,35.0 L721.2,35.0 L722.1,35.0 M736.1,35.0 L736.2,35.0 L737.2,35.0 L738.2,35.0 L739.2,35.0 L740.2,35.0 L741.2,35.0 L742.2,35.0 L743.2,35.0 L744.2,35.0 L745.2,35.0 L746.2,35.0 L747.2,35.0 L748.2,35.0 L749.2,35.0 L750.2,35.0 L751.2,35.0 L752.2,35.0 L753.1,35.0 M767.1,35.0 L767.2,35.0 L768.2,35.0 L769.2,35.0 L770.2,35.0 L771.2,35.0 L772.2,35.0 L773.2,35.0 L774.2,35.0 L775.2,35.0 L776.2,35.0 L777.2,35.0 L778.2,35.0 L779.2,35.0 L780.2,35.0 L781.2,35.0 L782.2,35.0 L783.2,35.0 L784.1,35.0 M798.1,35.0 L798.2,35.0 L799.2,35.0 L800.2,35.0 L801.2,35.0 L802.2,35.0 L803.2,35.0 L804.2,35.0 L805.2,35.0 L806.2,35.0 L807.2,35.0 L808.2,35.0 L809.2,35.0 L810.2,35.0 L811.2,35.0 L812.2,35.0 L813.2,35.0 L814.2,35.0 L815.1,35.0 M829.1,35.0 L829.2,35.0 L830.2,35.0 L831.2,35.0 L832.2,35.0 L833.2,35.0 L834.2,35.0 L835.2,35.0 L836.2,35.0 L837.2,35.0 L838.2,35.0 L839.2,35.0 L840.2,35.0 L841.2,35.0 L842.2,35.0 L843.2,35.0 L844.2,35.0 L845.2,35.0 L846.1,35.0 M860.1,35.0 L860.2,35.0 L861.2,35.0 L862.2,35.0 L863.2,35.0 L864.2,35.0 L865.2,35.0 L866.2,35.0 L867.2,35.0 L868.2,35.0 L869.2,35.0 L870.2,35.0 L871.2,35.0 L872.2,35.0 L873.2,35.0 L874.2,35.0 L875.2,35.0 L876.2,35.0 L877.1,35.0 M891.1,35.0 L891.2,35.0 L892.2,35.0 L893.2,35.0 L894.2,35.0 L895.2,35.0 L896.2,35.0 L897.2,35.0 L898.2,35.0 L899.2,35.0 L900.2,35.0 L901.2,35.0 L902.2,35.0 L903.2,35.0 L904.2,35.0 L905.2,35.0 L906.2,35.0 L907.2,35.0 L908.1,35.0 M922.1,35.0 L922.2,35.0 L923.2,35.0 L924.2,35.0 L925.2,35.0 L926.2,35.0 L927.2,35.0 L928.2,35.0 L929.2,35.0 L930.2,35.0 L931.2,35.0 L932.2,35.0 L933.2,35.0 L934.2,35.0 L935.2,35.0 L936.2,35.0 L937.2,35.0 L938.2,35.0 L939.1,35.0 M953.1,35.0 L953.2,35.0 L954.2,35.0 L954.5,35.0" fill="none" stroke="#000" stroke-width="3.6"/><path d="M137.5,693.0 L137.6,693.0 L138.6,693.0 L139.6,693.0 L140.6,693.0 L141.6,693.0 L142.6,693.0 L143.6,693.0 L144.6,693.0 L145.6,693.0 L146.6,693.0 L147.6,693.0 L148.6,693.0 L149.6,693.0 L150.6,693.0 L151.6,693.0 L152.6,693.0 L153.6,693.0 L154.5,693.0 M168.5,693.0 L168.6,693.0 L169.6,693.0 L170.6,693.0 L171.6,693.0 L172.6,693.0 L173.6,693.0 L174.6,693.0 L175.6,693.0 L176.6,693.0 L177.6,693.0 L178.6,693.0 L179.6,693.0 L180.6,693.0 L181.6,693.0 L182.6,693.0 L183.6,693.0 L184.6,693.0 L185.5,693.0 M199.5,693.0 L199.6,693.0 L200.6,693.0 L201.6,693.0 L202.6,693.0 L203.6,693.0 L204.6,693.0 L205.6,693.0 L206.6,693.0 L207.6,693.0 L208.6,693.0 L209.6,693.0 L210.6,693.0 L211.6,693.0 L212.6,693.0 L213.6,693.0 L214.6,693.0 L215.6,693.0 L216.5,693.0 M230.5,693.0 L230.6,693.0 L231.6,693.0 L232.6,693.0 L233.6,693.0 L234.6,693.0 L235.6,693.0 L236.6,693.0 L237.6,693.0 L238.6,693.0 L239.6,693.0 L240.6,693.0 L241.6,693.0 L242.6,693.0 L243.6,693.0 L244.6,693.0 L245.6,693.0 L246.6,693.0 L247.5,693.0 M261.5,693.0 L261.6,693.0 L262.6,693.0 L263.6,693.0 L264.6,693.0 L265.6,693.0 L266.6,693.0 L267.6,693.0 L268.6,693.0 L269.6,693.0 L270.6,693.0 L271.6,693.0 L272.6,693.0 L273.6,693.0 L274.6,693.0 L275.6,693.0 L276.6,693.0 L277.6,693.0 L278.5,693.0 M292.5,693.0 L292.5,693.0 L293.5,693.0 L294.5,693.0 L295.5,693.0 L296.5,693.0 L297.5,693.0 L298.5,693.0 L299.5,693.0 L300.5,693.0 L301.5,693.0 L302.5,693.0 L303.5,693.0 L304.5,693.0 L305.5,693.0 L306.5,693.0 L307.5,693.0 L308.5,693.0 L309.5,693.0 M323.5,693.0 L323.5,693.0 L324.5,693.0 L325.5,693.0 L326.5,693.0 L327.5,693.0 L328.5,693.0 L329.5,693.0 L330.5,693.0 L331.5,693.0 L332.5,693.0 L333.5,693.0 L334.5,693.0 L335.5,693.0 L336.5,693.0 L337.5,693.0 L338.5,693.0 L339.5,693.0 L340.5,693.0 M354.5,693.0 L354.5,693.0 L355.5,693.0 L356.5,693.0 L357.5,693.0 L358.5,693.0 L359.5,693.0 L360.5,693.0 L361.5,693.0 L362.5,693.0 L363.5,693.0 L364.5,693.0 L365.5,693.0 L366.5,693.0 L367.5,693.0 L368.5,693.0 L369.5,693.0 L370.5,693.0 L371.5,693.0 M385.5,693.0 L385.5,693.0 L386.5,693.0 L387.5,693.0 L388.5,693.0 L389.5,693.0 L390.5,693.0 L391.5,693.0 L392.5,693.0 L393.5,693.0 L394.5,693.0 L395.5,693.0 L396.5,693.0 L397.5,693.0 L398.5,693.0 L399.5,693.0 L400.5,693.0 L401.5,692.9 L402.5,692.9 M416.5,692.9 L416.5,692.9 L417.5,692.9 L418.5,692.8 L419.5,692.8 L420.5,692.8 L421.5,692.8 L422.5,692.8 L423.5,692.8 L424.5,692.8 L425.5,692.7 L426.5,692.7 L427.5,692.7 L428.5,692.7 L429.5,692.7 L430.5,692.6 L431.5,692.6 L432.5,692.6 L433.5,692.6 M447.5,691.9 L447.5,691.9 L448.5,691.8 L449.5,691.8 L450.5,691.7 L451.5,691.6 L452.5,691.5 L453.5,691.4 L454.5,691.3 L455.5,691.1 L456.5,691.0 L457.5,690.9 L458.5,690.7 L459.5,690.6 L460.5,690.4 L461.5,690.2 L462.5,690.0 L463.5,689.8 L464.4,689.6 M477.8,684.8 L477.9,684.8 L478.9,684.2 L479.9,683.6 L480.9,683.0 L481.9,682.3 L482.9,681.6 L483.9,680.8 L484.9,680.0 L485.9,679.1 L486.9,678.2 L487.9,677.2 L488.9,676.2 L489.9,675.0 L490.9,673.8 L491.7,672.8 M499.5,659.7 L499.6,659.5 L500.6,657.4 L501.6,655.0 L502.6,652.6 L503.6,650.0 L504.6,647.2 L505.6,644.3 L506.1,642.8 M510.2,628.5 L510.3,628.1 L511.3,624.1 L512.3,619.9 L513.3,615.5 L514.3,611.0 M517.1,596.4 L517.1,596.4 L518.1,590.8 L519.1,584.9 L520.1,578.7 M522.3,564.1 L522.4,563.5 L523.4,556.4 L524.4,549.1 L524.8,546.4 M526.6,531.7 L526.7,531.1 L527.7,522.8 L528.7,514.3 L528.7,513.9 M530.4,499.3 L530.4,499.2 L531.4,489.9 L532.3,481.4 M533.8,466.8 L533.9,465.8 L534.9,455.8 L535.6,448.9 M537.0,434.3 L537.0,434.2 L538.0,423.6 L538.7,416.4 M540.0,401.7 L540.1,401.1 L541.1,390.3 L541.7,383.9 M543.0,369.2 L543.1,368.4 L544.1,357.4 L544.7,351.4 M546.0,336.7 L546.0,336.7 L547.0,325.8 L547.6,318.8 M549.0,304.2 L549.1,303.3 L550.1,292.8 L550.7,286.3 M552.2,271.6 L552.2,271.2 L553.2,261.2 L554.0,253.8 M555.5,239.1 L555.5,239.0 L556.5,229.7 L557.4,221.3 M559.1,206.7 L559.2,206.0 L560.2,197.7 L561.2,189.7 L561.3,188.9 M563.2,174.2 L563.3,173.7 L564.3,166.6 L565.3,159.7 L565.8,156.5 M568.1,141.9 L568.2,141.3 L569.2,135.5 L570.2,130.0 L571.2,124.7 L571.3,124.2 M574.3,109.7 L574.4,109.4 L575.4,105.1 L576.4,101.0 L577.4,97.2 L578.4,93.5 L578.8,92.3 M583.4,78.1 L583.4,78.0 L584.4,75.4 L585.4,73.0 L586.4,70.6 L587.4,68.5 L588.4,66.4 L589.4,64.5 L590.4,62.7 L591.1,61.5 M600.5,49.4 L600.6,49.3 L601.6,48.4 L602.6,47.6 L603.6,46.8 L604.6,46.0 L605.6,45.3 L606.6,44.7 L607.6,44.0 L608.6,43.5 L609.6,42.9 L610.6,42.4 L611.6,42.0 L612.6,41.5 L613.6,41.1 L614.6,40.7 L615.6,40.3 L615.9,40.2 M629.6,37.1 L629.7,37.1 L630.7,37.0 L631.7,36.8 L632.7,36.7 L633.7,36.6 L634.7,36.5 L635.7,36.4 L636.7,36.3 L637.7,36.2 L638.7,36.2 L639.7,36.1 L640.7,36.0 L641.7,35.9 L642.7,35.9 L643.7,35.8 L644.7,35.8 L645.7,35.7 L646.6,35.7 M660.6,35.3 L660.6,35.3 L661.6,35.3 L662.6,35.2 L663.6,35.2 L664.6,35.2 L665.6,35.2 L666.6,35.2 L667.6,35.2 L668.6,35.2 L669.6,35.1 L670.6,35.1 L671.6,35.1 L672.6,35.1 L673.6,35.1 L674.6,35.1 L675.6,35.1 L676.6,35.1 L677.6,35.1 M691.6,35.0 L691.6,35.0 L692.6,35.0 L693.6,35.0 L694.6,35.0 L695.6,35.0 L696.6,35.0 L697.6,35.0 L698.6,35.0 L699.6,35.0 L700.6,35.0 L701.6,35.0 L702.6,35.0 L703.6,35.0 L704.6,35.0 L705.6,35.0 L706.6,35.0 L707.6,35.0 L708.6,35.0 M722.6,35.0 L722.6,35.0 L723.6,35.0 L724.6,35.0 L725.6,35.0 L726.6,35.0 L727.6,35.0 L728.6,35.0 L729.6,35.0 L730.6,35.0 L731.6,35.0 L732.6,35.0 L733.6,35.0 L734.6,35.0 L735.6,35.0 L736.6,35.0 L737.6,35.0 L738.6,35.0 L739.6,35.0 M753.6,35.0 L753.6,35.0 L754.6,35.0 L755.6,35.0 L756.6,35.0 L757.6,35.0 L758.6,35.0 L759.6,35.0 L760.6,35.0 L761.6,35.0 L762.6,35.0 L763.6,35.0 L764.6,35.0 L765.6,35.0 L766.6,35.0 L767.6,35.0 L768.6,35.0 L769.6,35.0 L770.6,35.0 M784.6,35.0 L784.6,35.0 L785.6,35.0 L786.6,35.0 L787.6,35.0 L788.6,35.0 L789.6,35.0 L790.6,35.0 L791.6,35.0 L792.6,35.0 L793.6,35.0 L794.6,35.0 L795.6,35.0 L796.6,35.0 L797.6,35.0 L798.6,35.0 L799.6,35.0 L800.6,35.0 L801.6,35.0 M815.6,35.0 L815.6,35.0 L816.6,35.0 L817.6,35.0 L818.6,35.0 L819.6,35.0 L820.6,35.0 L821.6,35.0 L822.6,35.0 L823.6,35.0 L824.6,35.0 L825.6,35.0 L826.6,35.0 L827.6,35.0 L828.6,35.0 L829.6,35.0 L830.6,35.0 L831.6,35.0 L832.6,35.0 M846.6,35.0 L846.6,35.0 L847.6,35.0 L848.6,35.0 L849.6,35.0 L850.6,35.0 L851.6,35.0 L852.6,35.0 L853.6,35.0 L854.6,35.0 L855.6,35.0 L856.6,35.0 L857.6,35.0 L858.6,35.0 L859.6,35.0 L860.6,35.0 L861.6,35.0 L862.6,35.0 L863.6,35.0 M877.6,35.0 L877.6,35.0 L878.6,35.0 L879.6,35.0 L880.6,35.0 L881.6,35.0 L882.6,35.0 L883.6,35.0 L884.6,35.0 L885.6,35.0 L886.6,35.0 L887.6,35.0 L888.6,35.0 L889.6,35.0 L890.6,35.0 L891.6,35.0 L892.6,35.0 L893.6,35.0 L894.6,35.0 M908.6,35.0 L908.6,35.0 L909.6,35.0 L910.6,35.0 L911.6,35.0 L912.6,35.0 L913.6,35.0 L914.6,35.0 L915.6,35.0 L916.6,35.0 L917.6,35.0 L918.6,35.0 L919.6,35.0 L920.6,35.0 L921.6,35.0 L922.6,35.0 L923.6,35.0 L924.6,35.0 L925.6,35.0 M939.6,35.0 L939.6,35.0 L940.6,35.0 L941.6,35.0 L942.6,35.0 L943.6,35.0 L944.6,35.0 L945.6,35.0 L946.6,35.0 L947.6,35.0 L948.6,35.0 L949.6,35.0 L950.6,35.0 L951.6,35.0 L952.6,35.0 L953.6,35.0 L954.5,35.0" fill="none" stroke="#000" stroke-width="3.6"/><path d="M137.5,693.0 L137.6,693.0 L138.6,693.0 L139.6,693.0 L140.6,693.0 L141.6,693.0 L142.6,693.0 L143.6,693.0 L144.6,693.0 L145.6,693.0 L146.6,693.0 L147.6,693.0 L148.6,693.0 L149.6,693.0 L150.6,693.0 L151.6,693.0 L152.6,693.0 L153.6,693.0 L154.5,693.0 M168.5,693.0 L168.6,693.0 L169.6,693.0 L170.6,693.0 L171.6,693.0 L172.6,693.0 L173.6,693.0 L174.6,693.0 L175.6,693.0 L176.6,693.0 L177.6,693.0 L178.6,693.0 L179.6,693.0 L180.6,693.0 L181.6,693.0 L182.6,693.0 L183.6,693.0 L184.6,693.0 L185.5,693.0 M199.5,693.0 L199.6,693.0 L200.6,693.0 L201.6,693.0 L202.6,693.0 L203.6,693.0 L204.6,693.0 L205.6,693.0 L206.6,693.0 L207.6,693.0 L208.6,693.0 L209.6,693.0 L210.6,693.0 L211.6,693.0 L212.6,693.0 L213.6,693.0 L214.6,693.0 L215.6,693.0 L216.5,693.0 M230.5,693.0 L230.6,693.0 L231.6,693.0 L232.6,693.0 L233.6,693.0 L234.6,693.0 L235.6,693.0 L236.6,693.0 L237.6,693.0 L238.6,693.0 L239.6,693.0 L240.6,693.0 L241.6,693.0 L242.6,693.0 L243.6,693.0 L244.6,693.0 L245.6,693.0 L246.6,693.0 L247.5,693.0 M261.5,693.0 L261.6,693.0 L262.6,693.0 L263.6,693.0 L264.6,693.0 L265.6,693.0 L266.6,693.0 L267.6,693.0 L268.6,693.0 L269.6,693.0 L270.6,693.0 L271.6,693.0 L272.6,693.0 L273.6,693.0 L274.6,693.0 L275.6,693.0 L276.6,693.0 L277.6,693.0 L278.5,693.0 M292.5,693.0 L292.6,693.0 L293.6,693.0 L294.6,693.0 L295.6,693.0 L296.6,693.0 L297.6,693.0 L298.6,693.0 L299.6,693.0 L300.6,693.0 L301.6,693.0 L302.6,693.0 L303.6,693.0 L304.6,693.0 L305.6,693.0 L306.6,693.0 L307.6,693.0 L308.6,693.0 L309.5,693.0 M323.5,693.0 L323.5,693.0 L324.5,693.0 L325.5,693.0 L326.5,693.0 L327.5,693.0 L328.5,693.0 L329.5,693.0 L330.5,693.0 L331.5,693.0 L332.5,693.0 L333.5,693.0 L334.5,693.0 L335.5,693.0 L336.5,693.0 L337.5,693.0 L338.5,693.0 L339.5,693.0 L340.5,693.0 M354.5,693.0 L354.5,693.0 L355.5,693.0 L356.5,693.0 L357.5,693.0 L358.5,693.0 L359.5,693.0 L360.5,693.0 L361.5,693.0 L362.5,693.0 L363.5,693.0 L364.5,693.0 L365.5,693.0 L366.5,693.0 L367.5,693.0 L368.5,693.0 L369.5,693.0 L370.5,693.0 L371.5,693.0 M385.5,693.0 L385.5,693.0 L386.5,693.0 L387.5,693.0 L388.5,693.0 L389.5,693.0 L390.5,693.0 L391.5,693.0 L392.5,693.0 L393.5,693.0 L394.5,693.0 L395.5,693.0 L396.5,693.0 L397.5,693.0 L398.5,693.0 L399.5,693.0 L400.5,693.0 L401.5,693.0 L402.5,693.0 M416.5,692.9 L416.5,692.9 L417.5,692.9 L418.5,692.9 L419.5,692.9 L420.5,692.8 L421.5,692.8 L422.5,692.8 L423.5,692.8 L424.5,692.8 L425.5,692.8 L426.5,692.8 L427.5,692.8 L428.5,692.7 L429.5,692.7 L430.5,692.7 L431.5,692.7 L432.5,692.7 L433.5,692.6 M447.5,692.1 L447.5,692.1 L448.5,692.0 L449.5,691.9 L450.5,691.9 L451.5,691.8 L452.5,691.7 L453.5,691.6 L454.5,691.5 L455.5,691.4 L456.5,691.3 L457.5,691.2 L458.5,691.1 L459.5,690.9 L460.5,690.8 L461.5,690.7 L462.5,690.5 L463.5,690.3 L464.4,690.2 M478.0,686.0 L478.0,686.0 L479.0,685.5 L480.0,685.0 L481.0,684.5 L482.0,683.9 L483.0,683.3 L484.0,682.6 L485.0,681.9 L486.0,681.2 L487.0,680.4 L488.0,679.5 L489.0,678.6 L490.0,677.6 L491.0,676.6 L492.0,675.5 L492.5,674.9 M500.8,662.1 L500.9,662.0 L501.9,659.9 L502.9,657.8 L503.9,655.5 L504.9,653.1 L505.9,650.5 L506.9,647.8 L507.8,645.3 M512.0,631.1 L512.1,630.8 L513.1,626.9 L514.1,622.9 L515.1,618.6 L516.1,614.1 L516.2,613.5 M519.1,599.0 L519.2,598.6 L520.2,593.0 L521.2,587.3 L522.2,581.3 M524.4,566.7 L524.5,566.3 L525.5,559.3 L526.5,552.1 L526.9,549.0 M528.8,534.3 L528.8,534.3 L529.8,526.2 L530.8,517.7 L530.9,516.5 M532.6,501.9 L532.7,501.0 L533.7,491.8 L534.5,484.1 M536.0,469.4 L536.1,468.8 L537.1,458.8 L537.8,451.6 M539.2,436.9 L539.3,436.3 L540.3,425.8 L540.9,419.0 M542.3,404.4 L542.4,403.3 L543.4,392.4 L543.9,386.5 M545.3,371.8 L545.3,371.7 L546.3,360.7 L546.9,354.0 M548.3,339.3 L548.3,338.8 L549.3,328.0 L549.9,321.5 M551.3,306.8 L551.3,306.5 L552.3,295.9 L553.0,288.9 M554.4,274.3 L554.4,274.2 L555.4,264.2 L556.2,256.4 M557.7,241.8 L557.8,240.9 L558.8,231.6 L559.6,224.0 M561.3,209.3 L561.4,208.5 L562.4,200.2 L563.4,192.1 L563.5,191.5 M565.4,176.9 L565.4,176.7 L566.4,169.4 L567.4,162.4 L567.9,159.1 M570.2,144.5 L570.2,144.3 L571.2,138.4 L572.2,132.7 L573.2,127.3 L573.3,126.8 M576.3,112.3 L576.3,112.1 L577.3,107.7 L578.3,103.5 L579.3,99.5 L580.3,95.7 L580.5,94.8 M585.0,80.6 L585.0,80.5 L586.0,77.8 L587.0,75.2 L588.0,72.7 L589.0,70.4 L590.0,68.3 L591.0,66.2 L592.0,64.3 L592.2,63.9 M601.1,51.3 L601.1,51.3 L602.1,50.3 L603.1,49.3 L604.1,48.4 L605.1,47.6 L606.1,46.8 L607.1,46.0 L608.1,45.3 L609.1,44.7 L610.1,44.0 L611.1,43.5 L612.1,42.9 L613.1,42.4 L614.1,42.0 L615.1,41.5 L616.0,41.1 M629.6,37.5 L629.7,37.5 L630.7,37.3 L631.7,37.2 L632.7,37.0 L633.7,36.9 L634.7,36.8 L635.7,36.7 L636.7,36.6 L637.7,36.5 L638.7,36.4 L639.7,36.3 L640.7,36.2 L641.7,36.1 L642.7,36.0 L643.7,36.0 L644.7,35.9 L645.7,35.9 L646.6,35.8 M660.6,35.3 L660.6,35.3 L661.6,35.3 L662.6,35.3 L663.6,35.3 L664.6,35.2 L665.6,35.2 L666.6,35.2 L667.6,35.2 L668.6,35.2 L669.6,35.2 L670.6,35.2 L671.6,35.2 L672.6,35.1 L673.6,35.1 L674.6,35.1 L675.6,35.1 L676.6,35.1 L677.6,35.1 M691.6,35.0 L691.6,35.0 L692.6,35.0 L693.6,35.0 L694.6,35.0 L695.6,35.0 L696.6,35.0 L697.6,35.0 L698.6,35.0 L699.6,35.0 L700.6,35.0 L701.6,35.0 L702.6,35.0 L703.6,35.0 L704.6,35.0 L705.6,35.0 L706.6,35.0 L707.6,35.0 L708.6,35.0 M722.6,35.0 L722.6,35.0 L723.6,35.0 L724.6,35.0 L725.6,35.0 L726.6,35.0 L727.6,35.0 L728.6,35.0 L729.6,35.0 L730.6,35.0 L731.6,35.0 L732.6,35.0 L733.6,35.0 L734.6,35.0 L735.6,35.0 L736.6,35.0 L737.6,35.0 L738.6,35.0 L739.6,35.0 M753.6,35.0 L753.6,35.0 L754.6,35.0 L755.6,35.0 L756.6,35.0 L757.6,35.0 L758.6,35.0 L759.6,35.0 L760.6,35.0 L761.6,35.0 L762.6,35.0 L763.6,35.0 L764.6,35.0 L765.6,35.0 L766.6,35.0 L767.6,35.0 L768.6,35.0 L769.6,35.0 L770.6,35.0 M784.6,35.0 L784.6,35.0 L785.6,35.0 L786.6,35.0 L787.6,35.0 L788.6,35.0 L789.6,35.0 L790.6,35.0 L791.6,35.0 L792.6,35.0 L793.6,35.0 L794.6,35.0 L795.6,35.0 L796.6,35.0 L797.6,35.0 L798.6,35.0 L799.6,35.0 L800.6,35.0 L801.6,35.0 M815.6,35.0 L815.6,35.0 L816.6,35.0 L817.6,35.0 L818.6,35.0 L819.6,35.0 L820.6,35.0 L821.6,35.0 L822.6,35.0 L823.6,35.0 L824.6,35.0 L825.6,35.0 L826.6,35.0 L827.6,35.0 L828.6,35.0 L829.6,35.0 L830.6,35.0 L831.6,35.0 L832.6,35.0 M846.6,35.0 L846.6,35.0 L847.6,35.0 L848.6,35.0 L849.6,35.0 L850.6,35.0 L851.6,35.0 L852.6,35.0 L853.6,35.0 L854.6,35.0 L855.6,35.0 L856.6,35.0 L857.6,35.0 L858.6,35.0 L859.6,35.0 L860.6,35.0 L861.6,35.0 L862.6,35.0 L863.6,35.0 M877.6,35.0 L877.6,35.0 L878.6,35.0 L879.6,35.0 L880.6,35.0 L881.6,35.0 L882.6,35.0 L883.6,35.0 L884.6,35.0 L885.6,35.0 L886.6,35.0 L887.6,35.0 L888.6,35.0 L889.6,35.0 L890.6,35.0 L891.6,35.0 L892.6,35.0 L893.6,35.0 L894.6,35.0 M908.6,35.0 L908.6,35.0 L909.6,35.0 L910.6,35.0 L911.6,35.0 L912.6,35.0 L913.6,35.0 L914.6,35.0 L915.6,35.0 L916.6,35.0 L917.6,35.0 L918.6,35.0 L919.6,35.0 L920.6,35.0 L921.6,35.0 L922.6,35.0 L923.6,35.0 L924.6,35.0 L925.6,35.0 M939.6,35.0 L939.6,35.0 L940.6,35.0 L941.6,35.0 L942.6,35.0 L943.6,35.0 L944.6,35.0 L945.6,35.0 L946.6,35.0 L947.6,35.0 L948.6,35.0 L949.6,35.0 L950.6,35.0 L951.6,35.0 L952.6,35.0 L953.6,35.0 L954.5,35.0" fill="none" stroke="#000" stroke-width="3.6"/>
</g>
<rect x="384.0" y="15.5" width="58.0" height="17.0" fill="#fff"/><rect x="313.0" y="53.0" width="61.0" height="19.0" fill="#fff"/><rect x="407.5" y="91.5" width="61.0" height="21.0" fill="#fff"/><rect x="461.0" y="123.5" width="60.0" height="23.9" fill="#fff"/><rect x="653.5" y="80.5" width="73.0" height="22.1" fill="#fff"/><rect x="661.6" y="122.5" width="70.0" height="22.1" fill="#fff"/><rect x="666.8" y="310.0" width="61.4" height="23.4" fill="#fff"/><rect x="446.8" y="529.8" width="72.8" height="23.0" fill="#fff"/><rect x="305.0" y="546.0" width="60.8" height="23.0" fill="#fff"/><rect x="726.7" y="621.8" width="59.2" height="23.1" fill="#fff"/><rect x="589.8" y="661.5" width="61.1" height="23.0" fill="#fff"/>
<line x1="387" y1="62.2" x2="469.8" y2="53.1" stroke="#000" stroke-width="3.4"/><polygon points="479.7,52.0 468.4,58.8 467.2,47.8" fill="#000"/><line x1="438" y1="93.7" x2="519.5" y2="66.2" stroke="#000" stroke-width="3.4"/><polygon points="529.0,63.0 519.4,72.0 515.9,61.6" fill="#000"/><line x1="640.2" y1="90" x2="620.1" y2="61.9" stroke="#000" stroke-width="3.4"/><polygon points="614.3,53.8 625.8,60.4 616.8,66.8" fill="#000"/><line x1="647.4" y1="132" x2="596.7" y2="61.9" stroke="#000" stroke-width="3.4"/><polygon points="590.8,53.8 602.3,60.3 593.4,66.7" fill="#000"/><line x1="713.8" y1="632.6" x2="672.4" y2="652.4" stroke="#000" stroke-width="3.4"/><polygon points="663.4,656.7 671.9,646.6 676.6,656.5" fill="#000"/>
<rect x="102" y="5.25" width="885" height="715.35" fill="none" stroke="#000" stroke-width="3.9"/>
<text x="383.4" y="31.5" class="lab">Rule4</text><text x="313.4" y="70.0" class="lab">Rule3</text><text x="407.9" y="109.5" class="lab">Rule2</text><text x="461.4" y="143.4" class="lab">Rule9</text><text x="653.9" y="98.6" class="lab">Rule10</text><text x="662.0" y="140.6" class="lab">Rule11</text><text x="667.2" y="329.4" class="lab">Rule5</text><text x="439.4" y="417.8" class="lab">Rule7</text><text x="447.1" y="548.8" class="lab">Rule12</text><text x="305.4" y="565.0" class="lab">Rule8</text><text x="727.1" y="640.9" class="lab">Rule1</text><text x="590.2" y="680.5" class="lab">Rule6</text>
<text x="119" y="777" class="ax" text-anchor="middle">0.0</text><text x="328.75" y="777" class="ax" text-anchor="middle">0.25</text><text x="546.25" y="777" class="ax" text-anchor="middle">0.5</text><text x="763.75" y="777" class="ax" text-anchor="middle">0.75</text><text x="975" y="777" class="ax" text-anchor="middle">1.0</text>
<text transform="translate(71.3,34.2) rotate(-90)" class="ax" text-anchor="middle">1.0</text><text transform="translate(71.3,164) rotate(-90)" class="ax" text-anchor="middle">0.8</text><text transform="translate(71.3,292.7) rotate(-90)" class="ax" text-anchor="middle">0.6</text><text transform="translate(71.3,437.3) rotate(-90)" class="ax" text-anchor="middle">0.4</text><text transform="translate(71.3,567.3) rotate(-90)" class="ax" text-anchor="middle">0.2</text><text transform="translate(71.3,696.9) rotate(-90)" class="ax" text-anchor="middle">0.0</text>
<text x="415.6" y="820" class="ax" style="font-size:32.2px">Disease severity</text>
<text transform="translate(27.5,334.3) rotate(-90)" class="ax" style="font-size:32.6px" text-anchor="middle">Probability of the rule is endorsed</text>
</svg>
</body></html>
